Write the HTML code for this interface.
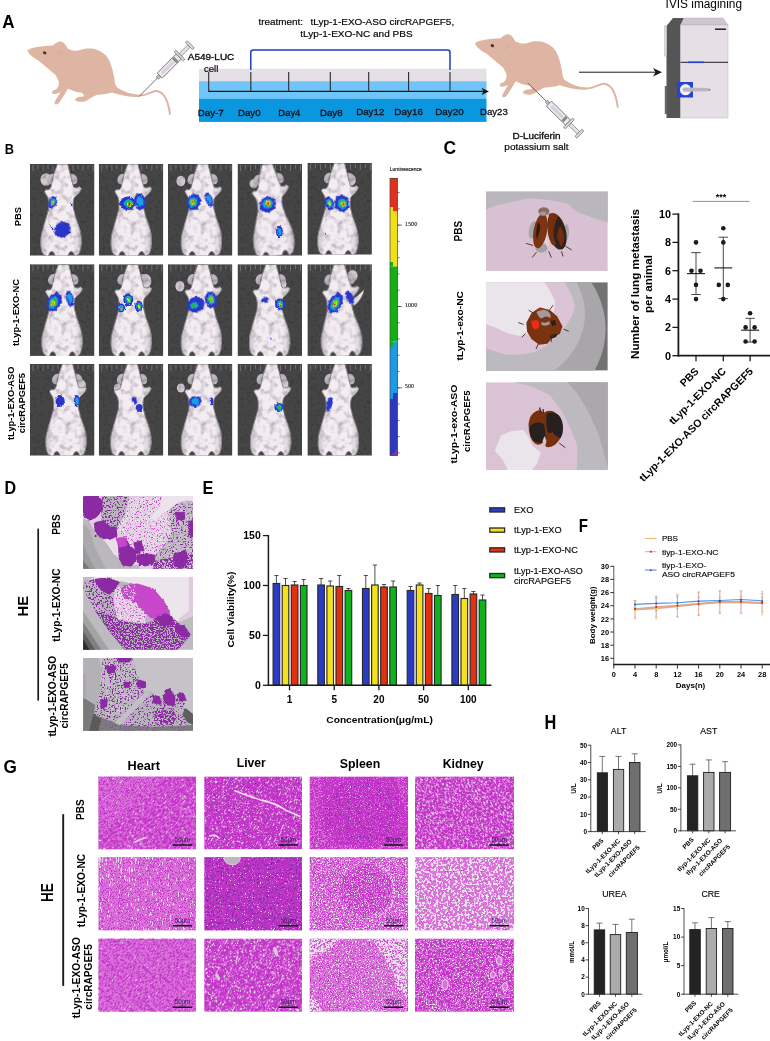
<!DOCTYPE html>
<html lang="en"><head><meta charset="utf-8"><title>Figure</title>
<style>
html,body{margin:0;padding:0;background:#fff;}
svg{display:block;font-family:"Liberation Sans",Arial,sans-serif;}
</style></head><body>
<svg width="770" height="1041" viewBox="0 0 770 1041">
<rect width="770" height="1041" fill="#fff"/>
<g id="pA">
<text x="2.2" y="28.0" font-size="18.3" font-weight="bold" textLength="12.3" lengthAdjust="spacingAndGlyphs">A</text>
<g transform="translate(0,0)">
<path d="M27.3,50.6 C30,47.5 42,46 53,45.5 C55,43 59,41 61.5,41.6 C64,42.5 66,45 67.5,48.5 C72,51 75,51 78,50.6 C85,48 92,48 96,49.4 C102,51.5 107,55 109,60 C112,66 113,72 114.3,78 C114.8,82 115,86 118,88 C124,91.5 130,94.5 138,95 L138,97 C128,97 120,95 112,92.5 C107,94 102,94.5 97.4,94.8 C93,96 90,99 86,101 C82,102.5 77,102 75,100 C76,97 80,96.5 84,96.5 C84,94 82,92.5 80,92.5 C76,92 72,91 68,88.5 C66,92 63,97 60,101.5 C58.5,104.5 55,105.5 54.5,103.5 C54.5,101 58,97 60.5,92 C58,93.5 55,94.5 52.5,93.5 C51,92 53,90 56,89.5 C58,88 59,85 59,82 C57,78 56,76 55.8,75.3 C50,70 44,65 39,61 C34,58 29,55 27.3,50.6 Z" fill="#DEB5A3"/>
<path d="M114,88.5 C122,92.5 132,96 140,95.6 C148,95 152,90.5 157,91 C163,92 168,100 170,114" fill="none" stroke="#DEB5A3" stroke-width="2" stroke-linecap="round"/>
<ellipse cx="44.7" cy="52.9" rx="1.8" ry="1.4" fill="#4a2a25" transform="rotate(30 44.7 52.9)"/>
<path d="M58,52 q1,3 -0.5,5 M60,50 q2,2 1,5" fill="none" stroke="#d89a8a" stroke-width="0.7"/>
</g>
<g transform="translate(139,96.6) rotate(-45.3)">
<line x1="0" y1="0" x2="27.5" y2="0" stroke="#555" stroke-width="0.8"/>
<rect x="26" y="-1.6" width="3.5" height="3.2" fill="#bbb" stroke="#666" stroke-width="0.5"/>
<rect x="29.5" y="-3.6" width="27" height="7.2" rx="1" fill="#EDE8EE" stroke="#666" stroke-width="0.8"/>
<rect x="33" y="-1.5" width="16" height="3" fill="#d9cfe0"/>
<rect x="50" y="-3" width="3" height="6" fill="#888"/>
<rect x="56.5" y="-6.5" width="2.4" height="13" rx="1" fill="#ddd" stroke="#666" stroke-width="0.7"/>
<rect x="59" y="-1.7" width="12" height="3.4" fill="#e4e4e4" stroke="#666" stroke-width="0.6"/>
<rect x="71" y="-5" width="2.6" height="10" rx="1" fill="#ddd" stroke="#666" stroke-width="0.7"/>
</g>
<rect x="199.0" y="68.8" width="287.5" height="12.6" fill="#E5DFE6"/>
<rect x="199.0" y="81.2" width="287.5" height="17.7" fill="#70C5F8"/>
<rect x="199.0" y="98.8" width="287.5" height="23.1" fill="#0A97DF"/>
<line x1="208.2" y1="91.4" x2="484.0" y2="91.4" stroke="#1a1a1a" stroke-width="1.3" />
<path d="M481.5,87.8 L489,91.4 L481.5,95 L483.5,91.4 Z" fill="#1a1a1a"/>
<line x1="208.7" y1="72.0" x2="208.7" y2="91.5" stroke="#2a2a2a" stroke-width="1.1" />
<line x1="250.8" y1="72.0" x2="250.8" y2="91.5" stroke="#2a2a2a" stroke-width="1.1" />
<line x1="288.7" y1="72.0" x2="288.7" y2="91.5" stroke="#2a2a2a" stroke-width="1.1" />
<line x1="330.3" y1="72.0" x2="330.3" y2="91.5" stroke="#2a2a2a" stroke-width="1.1" />
<line x1="368.7" y1="72.0" x2="368.7" y2="91.5" stroke="#2a2a2a" stroke-width="1.1" />
<line x1="408.6" y1="72.0" x2="408.6" y2="91.5" stroke="#2a2a2a" stroke-width="1.1" />
<line x1="450.0" y1="72.0" x2="450.0" y2="91.5" stroke="#2a2a2a" stroke-width="1.1" />
<path d="M250.8,70 L250.8,52.5 Q250.8,50 253.3,50 L447.5,50 Q450,50 450,52.5 L450,70" fill="none" stroke="#1D3DBE" stroke-width="1.5"/>
<text x="258.4" y="25.0" font-size="9.4" textLength="44.6" lengthAdjust="spacingAndGlyphs" stroke="#1a1a1a" stroke-width="0.2">treatment:</text>
<text x="310.6" y="25.0" font-size="9.4" textLength="143.6" lengthAdjust="spacingAndGlyphs" stroke="#1a1a1a" stroke-width="0.2">tLyp-1-EXO-ASO circRAPGEF5,</text>
<text x="300.3" y="36.8" font-size="9.4" textLength="112.3" lengthAdjust="spacingAndGlyphs" stroke="#1a1a1a" stroke-width="0.2">tLyp-1-EXO-NC and PBS</text>
<text x="187.8" y="59.8" font-size="9.4" textLength="46.5" lengthAdjust="spacingAndGlyphs" stroke="#1a1a1a" stroke-width="0.35">A549-LUC</text>
<text x="204.0" y="72.3" font-size="9.4" textLength="14.3" lengthAdjust="spacingAndGlyphs" stroke="#1a1a1a" stroke-width="0.2">cell</text>
<text x="197.8" y="115.5" font-size="9.6" textLength="26.0" lengthAdjust="spacingAndGlyphs" fill="#101018" stroke="#101018" stroke-width="0.3">Day-7</text>
<text x="238.0" y="115.5" font-size="9.6" textLength="22.6" lengthAdjust="spacingAndGlyphs" fill="#101018" stroke="#101018" stroke-width="0.3">Day0</text>
<text x="278.3" y="115.5" font-size="9.6" textLength="22.1" lengthAdjust="spacingAndGlyphs" fill="#101018" stroke="#101018" stroke-width="0.3">Day4</text>
<text x="319.9" y="115.5" font-size="9.6" textLength="22.8" lengthAdjust="spacingAndGlyphs" fill="#101018" stroke="#101018" stroke-width="0.3">Day8</text>
<text x="356.2" y="114.7" font-size="9.6" textLength="28.1" lengthAdjust="spacingAndGlyphs" fill="#101018" stroke="#101018" stroke-width="0.3">Day12</text>
<text x="394.3" y="115.3" font-size="9.6" textLength="28.6" lengthAdjust="spacingAndGlyphs" fill="#101018" stroke="#101018" stroke-width="0.3">Day16</text>
<text x="435.3" y="115.3" font-size="9.6" textLength="28.3" lengthAdjust="spacingAndGlyphs" fill="#101018" stroke="#101018" stroke-width="0.3">Day20</text>
<text x="480.0" y="114.7" font-size="9.6" textLength="27.8" lengthAdjust="spacingAndGlyphs" fill="#101018" stroke="#101018" stroke-width="0.3">Day23</text>
<g transform="translate(447.7,-7.2)">
<path d="M27.3,50.6 C30,47.5 42,46 53,45.5 C55,43 59,41 61.5,41.6 C64,42.5 66,45 67.5,48.5 C72,51 75,51 78,50.6 C85,48 92,48 96,49.4 C102,51.5 107,55 109,60 C112,66 113,72 114.3,78 C114.8,82 115,86 118,88 C124,91.5 130,94.5 138,95 L138,97 C128,97 120,95 112,92.5 C107,94 102,94.5 97.4,94.8 C93,96 90,99 86,101 C82,102.5 77,102 75,100 C76,97 80,96.5 84,96.5 C84,94 82,92.5 80,92.5 C76,92 72,91 68,88.5 C66,92 63,97 60,101.5 C58.5,104.5 55,105.5 54.5,103.5 C54.5,101 58,97 60.5,92 C58,93.5 55,94.5 52.5,93.5 C51,92 53,90 56,89.5 C58,88 59,85 59,82 C57,78 56,76 55.8,75.3 C50,70 44,65 39,61 C34,58 29,55 27.3,50.6 Z" fill="#DEB5A3"/>
<path d="M114,88.5 C122,92.5 132,96 140,95.6 C148,95 152,90.5 157,91 C163,92 168,100 170,114" fill="none" stroke="#DEB5A3" stroke-width="2" stroke-linecap="round"/>
<ellipse cx="44.7" cy="52.9" rx="1.8" ry="1.4" fill="#4a2a25" transform="rotate(30 44.7 52.9)"/>
<path d="M58,52 q1,3 -0.5,5 M60,50 q2,2 1,5" fill="none" stroke="#d89a8a" stroke-width="0.7"/>
</g>
<g transform="translate(527.8,83) rotate(44.5)">
<line x1="0" y1="0" x2="27.5" y2="0" stroke="#555" stroke-width="0.8"/>
<rect x="26" y="-1.6" width="3.5" height="3.2" fill="#bbb" stroke="#666" stroke-width="0.5"/>
<rect x="29.5" y="-3.6" width="27" height="7.2" rx="1" fill="#EDE8EE" stroke="#666" stroke-width="0.8"/>
<rect x="33" y="-1.5" width="16" height="3" fill="#d9cfe0"/>
<rect x="50" y="-3" width="3" height="6" fill="#888"/>
<rect x="56.5" y="-6.5" width="2.4" height="13" rx="1" fill="#ddd" stroke="#666" stroke-width="0.7"/>
<rect x="59" y="-1.7" width="12" height="3.4" fill="#e4e4e4" stroke="#666" stroke-width="0.6"/>
<rect x="71" y="-5" width="2.6" height="10" rx="1" fill="#ddd" stroke="#666" stroke-width="0.7"/>
</g>
<text x="512.6" y="138.6" font-size="9.4" textLength="48.0" lengthAdjust="spacingAndGlyphs" stroke="#1a1a1a" stroke-width="0.35">D-Luciferin</text>
<text x="504.3" y="150.0" font-size="9.4" textLength="64.3" lengthAdjust="spacingAndGlyphs" stroke="#1a1a1a" stroke-width="0.2">potassium salt</text>
<line x1="579.0" y1="72.2" x2="657.0" y2="72.2" stroke="#1a1a1a" stroke-width="1" />
<path d="M653,68 L662,72.2 L653,76.4 L655.5,72.2 Z" fill="#1a1a1a"/>
<text x="665.6" y="8.2" font-size="12" textLength="76.4" lengthAdjust="spacingAndGlyphs">IVIS imagining</text>
<path d="M666.5,118 L666.5,26 L673,18 L684,18 L680.5,26 L680.5,118 Z" fill="#555"/>
<path d="M680.5,25 L684,18 L723,18 L728,25 Z" fill="#CEC6D0" stroke="#aaa" stroke-width="0.4"/>
<rect x="680.5" y="25.0" width="47.5" height="93.0" fill="#E6DFE6" stroke="#b9b3ba" stroke-width="0.5"/>
<line x1="680.5" y1="62.3" x2="728.0" y2="62.3" stroke="#444" stroke-width="1.3" />
<line x1="688.0" y1="62.3" x2="704.0" y2="62.3" stroke="#2244cc" stroke-width="1.6" />
<line x1="715.0" y1="29.2" x2="726.0" y2="29.2" stroke="#222" stroke-width="1.5" />
<rect x="664.8" y="26.0" width="2.0" height="30.0" fill="#ddd" stroke="#999" stroke-width="0.4"/>
<rect x="664.8" y="86.0" width="2.5" height="28.0" fill="#666"/>
<rect x="677.0" y="82.0" width="16.0" height="15.5" fill="#2743CF"/>
<circle cx="685.5" cy="89.7" r="5.6" fill="#f4f2f6"/>
<path d="M684,87.6 L708,87.9 Q711,89.7 708,91.3 L684,91.8 Q681,89.7 684,87.6 Z" fill="#b9b7be"/>
<circle cx="709.5" cy="89.7" r="1" fill="#35a0f0"/>
</g>
<g id="pB">
<defs>
<filter id="mot" x="0" y="0" width="1" height="1" color-interpolation-filters="sRGB"><feTurbulence type="fractalNoise" baseFrequency="0.16" numOctaves="2" seed="4" result="n"/><feColorMatrix in="n" type="matrix" values="0.55 0 0 0 0.70  0.62 0 0 0 0.66  0.55 0 0 0 0.70  0 0 0 0 1" result="g"/><feComposite in="SourceGraphic" in2="g" operator="arithmetic" k1="1" k2="0" k3="0" k4="0"/></filter>
<filter id="bgn" x="0" y="0" width="1" height="1" color-interpolation-filters="sRGB"><feTurbulence type="fractalNoise" baseFrequency="0.3" numOctaves="2" seed="9" result="n"/><feColorMatrix in="n" type="matrix" values="0.5 0 0 0 0.75  0.5 0 0 0 0.75  0.5 0 0 0 0.75  0 0 0 0 1" result="g"/><feComposite in="SourceGraphic" in2="g" operator="arithmetic" k1="1" k2="0" k3="0" k4="0"/></filter>
<filter id="rough" x="-0.2" y="-0.2" width="1.4" height="1.4"><feTurbulence type="fractalNoise" baseFrequency="0.35" numOctaves="2" seed="2" result="t"/><feDisplacementMap in="SourceGraphic" in2="t" scale="3.2" xChannelSelector="R" yChannelSelector="G"/></filter>
<linearGradient id="mgrad" gradientUnits="userSpaceOnUse" x1="10" y1="0" x2="54" y2="0"><stop offset="0" stop-color="#B9B3BA"/><stop offset="0.2" stop-color="#F3EDF2"/><stop offset="0.8" stop-color="#F3EDF2"/><stop offset="1" stop-color="#B9B3BA"/></linearGradient>
<clipPath id="mclip"><rect x="0" y="0" width="64.5" height="91.7"/></clipPath>
</defs>
<text x="4.8" y="153.9" font-size="15" font-weight="bold" textLength="9.2" lengthAdjust="spacingAndGlyphs">B</text>
<text x="21.5" y="216.6" font-size="9.5" font-weight="bold" text-anchor="middle" transform="rotate(-90 21.5 216.6)" textLength="19.2" lengthAdjust="spacingAndGlyphs">PBS</text>
<text x="19.5" y="312.6" font-size="9.5" font-weight="bold" text-anchor="middle" transform="rotate(-90 19.5 312.6)" textLength="67.0" lengthAdjust="spacingAndGlyphs">tLyp-1-EXO-NC</text>
<text x="14.3" y="403.3" font-size="9.5" font-weight="bold" text-anchor="middle" transform="rotate(-90 14.3 403.3)" textLength="73.4" lengthAdjust="spacingAndGlyphs">tLyp-1-EXO-ASO</text>
<text x="25.4" y="403.1" font-size="9.5" font-weight="bold" text-anchor="middle" transform="rotate(-90 25.4 403.1)" textLength="60.2" lengthAdjust="spacingAndGlyphs">circRAPGEF5</text>
<g transform="translate(30.0,164.0)" clip-path="url(#mclip)">
<rect width="64.5" height="91.7" fill="#454545" filter="url(#bgn)"/>
<line x1="3" y1="1" x2="3" y2="7" stroke="#7a7a7a" stroke-width="0.8"/><line x1="8" y1="1" x2="8" y2="5" stroke="#7a7a7a" stroke-width="0.8"/><line x1="13" y1="1" x2="13" y2="7" stroke="#7a7a7a" stroke-width="0.8"/><line x1="18" y1="1" x2="18" y2="5" stroke="#7a7a7a" stroke-width="0.8"/><line x1="23" y1="1" x2="23" y2="7" stroke="#7a7a7a" stroke-width="0.8"/><line x1="28" y1="1" x2="28" y2="5" stroke="#7a7a7a" stroke-width="0.8"/><line x1="33" y1="1" x2="33" y2="7" stroke="#7a7a7a" stroke-width="0.8"/><line x1="38" y1="1" x2="38" y2="5" stroke="#7a7a7a" stroke-width="0.8"/><line x1="43" y1="1" x2="43" y2="7" stroke="#7a7a7a" stroke-width="0.8"/><line x1="48" y1="1" x2="48" y2="5" stroke="#7a7a7a" stroke-width="0.8"/><line x1="53" y1="1" x2="53" y2="7" stroke="#7a7a7a" stroke-width="0.8"/><line x1="58" y1="1" x2="58" y2="5" stroke="#7a7a7a" stroke-width="0.8"/><line x1="63" y1="1" x2="63" y2="7" stroke="#7a7a7a" stroke-width="0.8"/>
<g transform="translate(-1,0) rotate(0 32 46)">
<g filter="url(#mot)"><ellipse cx="17" cy="15.5" rx="5.5" ry="6.3" fill="#CFC8CF"/><ellipse cx="22.5" cy="15" rx="4.2" ry="5.5" fill="#BEB8BF" transform="rotate(25 22.5 15)"/><ellipse cx="44" cy="15" rx="4.2" ry="5.5" fill="#BEB8BF" transform="rotate(-25 44 15)"/><path d="M28.5,0 L38.5,0 C39.5,4 41,9 42,13 C43,17 43.5,20 44.5,23 C46.5,24.5 49,24 50.5,22.5 L52.5,24.5 C51.5,28 48,31 45,34 C44,37 44,41 44.5,45 C46,52 49.5,60 51.5,68 C53,75 53,82 51,87 C50,90.5 48,92.3 46.5,92.3 L45.5,92.3 C45,89.5 44,87.5 42.3,87.5 C40.6,87.5 39.6,89.5 39,92.3 L26,92.3 C25.4,89.5 24.4,87.5 22.7,87.5 C21,87.5 20,89.5 19.5,92.3 L18,92.3 C15.5,92.3 13.5,90 12.5,86 C11,80 11.5,74 13,68 C15,60 18,52 19.5,45 C20,41 19.8,37 19,34 C17.5,31 16,29 15.5,27.5 L17,25.5 C19,26.5 21,25.5 22,23 C22.8,20 23,17 24,13 C25,9 27,4 28.5,0 Z" fill="url(#mgrad)" stroke="#8d888e" stroke-width="1.0"/></g>
</g>
<g transform="translate(22.6,38.5) rotate(20)" filter="url(#rough)"><ellipse cx="0.0" cy="0.0" rx="4.2" ry="6.2" fill="#2B36C9"/><ellipse cx="0.0" cy="0.0" rx="2.6" ry="3.8" fill="#1C9DEB"/><ellipse cx="0.0" cy="0.0" rx="1.9" ry="2.8" fill="#1FC02A"/><ellipse cx="0.0" cy="0.0" rx="1.3" ry="1.9" fill="#F2E21C"/><ellipse cx="0.0" cy="0.0" rx="0.7" ry="1.1" fill="#E3200F"/></g>
<g transform="translate(41.3,40.4) rotate(0)" filter="url(#rough)"><ellipse cx="0.0" cy="0.0" rx="1.2" ry="1.6" fill="#2B36C9"/></g>
<g transform="translate(32.5,65.5) rotate(-30)" filter="url(#rough)"><ellipse cx="0.0" cy="0.0" rx="8.5" ry="7.5" fill="#2B36C9"/></g>
<g transform="translate(22.0,64.0) rotate(0)" filter="url(#rough)"><ellipse cx="0.0" cy="0.0" rx="1.2" ry="1.2" fill="#2B36C9"/></g>
<g transform="translate(20.0,61.0) rotate(0)" filter="url(#rough)"><ellipse cx="0.0" cy="0.0" rx="0.8" ry="0.8" fill="#2B36C9"/></g>
<g transform="translate(24.0,68.0) rotate(0)" filter="url(#rough)"><ellipse cx="0.0" cy="0.0" rx="0.8" ry="0.8" fill="#2B36C9"/></g>
</g>
<g transform="translate(98.8,164.0)" clip-path="url(#mclip)">
<rect width="64.5" height="91.7" fill="#454545" filter="url(#bgn)"/>
<line x1="3" y1="1" x2="3" y2="7" stroke="#7a7a7a" stroke-width="0.8"/><line x1="8" y1="1" x2="8" y2="5" stroke="#7a7a7a" stroke-width="0.8"/><line x1="13" y1="1" x2="13" y2="7" stroke="#7a7a7a" stroke-width="0.8"/><line x1="18" y1="1" x2="18" y2="5" stroke="#7a7a7a" stroke-width="0.8"/><line x1="23" y1="1" x2="23" y2="7" stroke="#7a7a7a" stroke-width="0.8"/><line x1="28" y1="1" x2="28" y2="5" stroke="#7a7a7a" stroke-width="0.8"/><line x1="33" y1="1" x2="33" y2="7" stroke="#7a7a7a" stroke-width="0.8"/><line x1="38" y1="1" x2="38" y2="5" stroke="#7a7a7a" stroke-width="0.8"/><line x1="43" y1="1" x2="43" y2="7" stroke="#7a7a7a" stroke-width="0.8"/><line x1="48" y1="1" x2="48" y2="5" stroke="#7a7a7a" stroke-width="0.8"/><line x1="53" y1="1" x2="53" y2="7" stroke="#7a7a7a" stroke-width="0.8"/><line x1="58" y1="1" x2="58" y2="5" stroke="#7a7a7a" stroke-width="0.8"/><line x1="63" y1="1" x2="63" y2="7" stroke="#7a7a7a" stroke-width="0.8"/>
<g transform="translate(0.5,0) rotate(0 32 46)">
<g filter="url(#mot)"><ellipse cx="22.5" cy="15" rx="4.2" ry="5.5" fill="#BEB8BF" transform="rotate(25 22.5 15)"/><ellipse cx="44" cy="15" rx="4.2" ry="5.5" fill="#BEB8BF" transform="rotate(-25 44 15)"/><path d="M28.5,0 L38.5,0 C39.5,4 41,9 42,13 C43,17 43.5,20 44.5,23 C46.5,24.5 49,24 50.5,22.5 L52.5,24.5 C51.5,28 48,31 45,34 C44,37 44,41 44.5,45 C46,52 49.5,60 51.5,68 C53,75 53,82 51,87 C50,90.5 48,92.3 46.5,92.3 L45.5,92.3 C45,89.5 44,87.5 42.3,87.5 C40.6,87.5 39.6,89.5 39,92.3 L26,92.3 C25.4,89.5 24.4,87.5 22.7,87.5 C21,87.5 20,89.5 19.5,92.3 L18,92.3 C15.5,92.3 13.5,90 12.5,86 C11,80 11.5,74 13,68 C15,60 18,52 19.5,45 C20,41 19.8,37 19,34 C17.5,31 16,29 15.5,27.5 L17,25.5 C19,26.5 21,25.5 22,23 C22.8,20 23,17 24,13 C25,9 27,4 28.5,0 Z" fill="url(#mgrad)" stroke="#8d888e" stroke-width="1.0"/></g>
</g>
<g transform="translate(29.1,39.2) rotate(0)" filter="url(#rough)"><ellipse cx="0.0" cy="0.0" rx="8.0" ry="6.8" fill="#2B36C9"/><ellipse cx="0.8" cy="0.4" rx="5.0" ry="4.2" fill="#1C9DEB"/><ellipse cx="1.1" cy="0.6" rx="3.6" ry="3.1" fill="#1FC02A"/><ellipse cx="1.4" cy="0.7" rx="2.4" ry="2.0" fill="#F2E21C"/><ellipse cx="1.7" cy="0.8" rx="1.4" ry="1.2" fill="#E3200F"/></g>
<g transform="translate(41.2,37.6) rotate(-10)" filter="url(#rough)"><ellipse cx="0.0" cy="0.0" rx="5.8" ry="8.2" fill="#2B36C9"/><ellipse cx="0.0" cy="0.0" rx="3.6" ry="5.1" fill="#1C9DEB"/></g>
</g>
<g transform="translate(167.9,164.0)" clip-path="url(#mclip)">
<rect width="64.5" height="91.7" fill="#454545" filter="url(#bgn)"/>
<line x1="3" y1="1" x2="3" y2="7" stroke="#7a7a7a" stroke-width="0.8"/><line x1="8" y1="1" x2="8" y2="5" stroke="#7a7a7a" stroke-width="0.8"/><line x1="13" y1="1" x2="13" y2="7" stroke="#7a7a7a" stroke-width="0.8"/><line x1="18" y1="1" x2="18" y2="5" stroke="#7a7a7a" stroke-width="0.8"/><line x1="23" y1="1" x2="23" y2="7" stroke="#7a7a7a" stroke-width="0.8"/><line x1="28" y1="1" x2="28" y2="5" stroke="#7a7a7a" stroke-width="0.8"/><line x1="33" y1="1" x2="33" y2="7" stroke="#7a7a7a" stroke-width="0.8"/><line x1="38" y1="1" x2="38" y2="5" stroke="#7a7a7a" stroke-width="0.8"/><line x1="43" y1="1" x2="43" y2="7" stroke="#7a7a7a" stroke-width="0.8"/><line x1="48" y1="1" x2="48" y2="5" stroke="#7a7a7a" stroke-width="0.8"/><line x1="53" y1="1" x2="53" y2="7" stroke="#7a7a7a" stroke-width="0.8"/><line x1="58" y1="1" x2="58" y2="5" stroke="#7a7a7a" stroke-width="0.8"/><line x1="63" y1="1" x2="63" y2="7" stroke="#7a7a7a" stroke-width="0.8"/>
<g transform="translate(1.5,0) rotate(0 32 46)">
<g filter="url(#mot)"><ellipse cx="11.5" cy="17" rx="4.5" ry="5.2" fill="#CFC8CF"/><ellipse cx="22.5" cy="15" rx="4.2" ry="5.5" fill="#BEB8BF" transform="rotate(25 22.5 15)"/><ellipse cx="44" cy="15" rx="4.2" ry="5.5" fill="#BEB8BF" transform="rotate(-25 44 15)"/><path d="M28.5,0 L38.5,0 C39.5,4 41,9 42,13 C43,17 43.5,20 44.5,23 C46.5,24.5 49,24 50.5,22.5 L52.5,24.5 C51.5,28 48,31 45,34 C44,37 44,41 44.5,45 C46,52 49.5,60 51.5,68 C53,75 53,82 51,87 C50,90.5 48,92.3 46.5,92.3 L45.5,92.3 C45,89.5 44,87.5 42.3,87.5 C40.6,87.5 39.6,89.5 39,92.3 L26,92.3 C25.4,89.5 24.4,87.5 22.7,87.5 C21,87.5 20,89.5 19.5,92.3 L18,92.3 C15.5,92.3 13.5,90 12.5,86 C11,80 11.5,74 13,68 C15,60 18,52 19.5,45 C20,41 19.8,37 19,34 C17.5,31 16,29 15.5,27.5 L17,25.5 C19,26.5 21,25.5 22,23 C22.8,20 23,17 24,13 C25,9 27,4 28.5,0 Z" fill="url(#mgrad)" stroke="#8d888e" stroke-width="1.0"/></g>
</g>
<g transform="translate(26.0,38.0) rotate(10)" filter="url(#rough)"><ellipse cx="0.0" cy="0.0" rx="7.0" ry="8.0" fill="#2B36C9"/><ellipse cx="-0.8" cy="0.4" rx="4.3" ry="5.0" fill="#1C9DEB"/><ellipse cx="-1.1" cy="0.6" rx="3.1" ry="3.6" fill="#1FC02A"/><ellipse cx="-1.4" cy="0.7" rx="2.1" ry="2.4" fill="#F2E21C"/><ellipse cx="-1.7" cy="0.8" rx="1.2" ry="1.4" fill="#E3200F"/></g>
<g transform="translate(41.2,35.7) rotate(-20)" filter="url(#rough)"><ellipse cx="0.0" cy="0.0" rx="3.6" ry="7.5" fill="#2B36C9"/><ellipse cx="0.0" cy="0.0" rx="2.2" ry="4.7" fill="#1C9DEB"/></g>
</g>
<g transform="translate(237.5,164.0)" clip-path="url(#mclip)">
<rect width="64.5" height="91.7" fill="#454545" filter="url(#bgn)"/>
<line x1="3" y1="1" x2="3" y2="7" stroke="#7a7a7a" stroke-width="0.8"/><line x1="8" y1="1" x2="8" y2="5" stroke="#7a7a7a" stroke-width="0.8"/><line x1="13" y1="1" x2="13" y2="7" stroke="#7a7a7a" stroke-width="0.8"/><line x1="18" y1="1" x2="18" y2="5" stroke="#7a7a7a" stroke-width="0.8"/><line x1="23" y1="1" x2="23" y2="7" stroke="#7a7a7a" stroke-width="0.8"/><line x1="28" y1="1" x2="28" y2="5" stroke="#7a7a7a" stroke-width="0.8"/><line x1="33" y1="1" x2="33" y2="7" stroke="#7a7a7a" stroke-width="0.8"/><line x1="38" y1="1" x2="38" y2="5" stroke="#7a7a7a" stroke-width="0.8"/><line x1="43" y1="1" x2="43" y2="7" stroke="#7a7a7a" stroke-width="0.8"/><line x1="48" y1="1" x2="48" y2="5" stroke="#7a7a7a" stroke-width="0.8"/><line x1="53" y1="1" x2="53" y2="7" stroke="#7a7a7a" stroke-width="0.8"/><line x1="58" y1="1" x2="58" y2="5" stroke="#7a7a7a" stroke-width="0.8"/><line x1="63" y1="1" x2="63" y2="7" stroke="#7a7a7a" stroke-width="0.8"/>
<g transform="translate(1,0) rotate(-6 32 46)">
<g filter="url(#mot)"><ellipse cx="18" cy="18" rx="4" ry="4.6" fill="#CFC8CF"/><ellipse cx="22.5" cy="15" rx="4.2" ry="5.5" fill="#BEB8BF" transform="rotate(25 22.5 15)"/><ellipse cx="44" cy="15" rx="4.2" ry="5.5" fill="#BEB8BF" transform="rotate(-25 44 15)"/><path d="M28.5,0 L38.5,0 C39.5,4 41,9 42,13 C43,17 43.5,20 44.5,23 C46.5,24.5 49,24 50.5,22.5 L52.5,24.5 C51.5,28 48,31 45,34 C44,37 44,41 44.5,45 C46,52 49.5,60 51.5,68 C53,75 53,82 51,87 C50,90.5 48,92.3 46.5,92.3 L45.5,92.3 C45,89.5 44,87.5 42.3,87.5 C40.6,87.5 39.6,89.5 39,92.3 L26,92.3 C25.4,89.5 24.4,87.5 22.7,87.5 C21,87.5 20,89.5 19.5,92.3 L18,92.3 C15.5,92.3 13.5,90 12.5,86 C11,80 11.5,74 13,68 C15,60 18,52 19.5,45 C20,41 19.8,37 19,34 C17.5,31 16,29 15.5,27.5 L17,25.5 C19,26.5 21,25.5 22,23 C22.8,20 23,17 24,13 C25,9 27,4 28.5,0 Z" fill="url(#mgrad)" stroke="#8d888e" stroke-width="1.0"/></g>
</g>
<g transform="translate(30.2,40.4) rotate(-25)" filter="url(#rough)"><ellipse cx="0.0" cy="0.0" rx="8.5" ry="7.5" fill="#2B36C9"/><ellipse cx="0.4" cy="-0.4" rx="5.3" ry="4.7" fill="#1C9DEB"/><ellipse cx="0.6" cy="-0.6" rx="3.8" ry="3.4" fill="#1FC02A"/><ellipse cx="0.7" cy="-0.7" rx="2.5" ry="2.2" fill="#F2E21C"/><ellipse cx="0.8" cy="-0.8" rx="1.4" ry="1.3" fill="#E3200F"/></g>
<g transform="translate(41.9,68.0) rotate(0)" filter="url(#rough)"><ellipse cx="0.0" cy="0.0" rx="3.4" ry="6.2" fill="#2B36C9"/><ellipse cx="0.0" cy="0.0" rx="2.1" ry="3.8" fill="#1C9DEB"/></g>
<g transform="translate(45.0,38.0) rotate(0)" filter="url(#rough)"><ellipse cx="0.0" cy="0.0" rx="1.0" ry="1.4" fill="#2B36C9"/></g>
</g>
<g transform="translate(307.4,163.0)" clip-path="url(#mclip)">
<rect width="64.5" height="91.7" fill="#454545" filter="url(#bgn)"/>
<line x1="3" y1="1" x2="3" y2="7" stroke="#7a7a7a" stroke-width="0.8"/><line x1="8" y1="1" x2="8" y2="5" stroke="#7a7a7a" stroke-width="0.8"/><line x1="13" y1="1" x2="13" y2="7" stroke="#7a7a7a" stroke-width="0.8"/><line x1="18" y1="1" x2="18" y2="5" stroke="#7a7a7a" stroke-width="0.8"/><line x1="23" y1="1" x2="23" y2="7" stroke="#7a7a7a" stroke-width="0.8"/><line x1="28" y1="1" x2="28" y2="5" stroke="#7a7a7a" stroke-width="0.8"/><line x1="33" y1="1" x2="33" y2="7" stroke="#7a7a7a" stroke-width="0.8"/><line x1="38" y1="1" x2="38" y2="5" stroke="#7a7a7a" stroke-width="0.8"/><line x1="43" y1="1" x2="43" y2="7" stroke="#7a7a7a" stroke-width="0.8"/><line x1="48" y1="1" x2="48" y2="5" stroke="#7a7a7a" stroke-width="0.8"/><line x1="53" y1="1" x2="53" y2="7" stroke="#7a7a7a" stroke-width="0.8"/><line x1="58" y1="1" x2="58" y2="5" stroke="#7a7a7a" stroke-width="0.8"/><line x1="63" y1="1" x2="63" y2="7" stroke="#7a7a7a" stroke-width="0.8"/>
<g transform="translate(-1.5,0) rotate(0 32 46)">
<g filter="url(#mot)"><ellipse cx="45.0" cy="17" rx="5" ry="5.8" fill="#CFC8CF"/><ellipse cx="22.5" cy="15" rx="4.2" ry="5.5" fill="#BEB8BF" transform="rotate(25 22.5 15)"/><ellipse cx="44" cy="15" rx="4.2" ry="5.5" fill="#BEB8BF" transform="rotate(-25 44 15)"/><path d="M28.5,0 L38.5,0 C39.5,4 41,9 42,13 C43,17 43.5,20 44.5,23 C46.5,24.5 49,24 50.5,22.5 L52.5,24.5 C51.5,28 48,31 45,34 C44,37 44,41 44.5,45 C46,52 49.5,60 51.5,68 C53,75 53,82 51,87 C50,90.5 48,92.3 46.5,92.3 L45.5,92.3 C45,89.5 44,87.5 42.3,87.5 C40.6,87.5 39.6,89.5 39,92.3 L26,92.3 C25.4,89.5 24.4,87.5 22.7,87.5 C21,87.5 20,89.5 19.5,92.3 L18,92.3 C15.5,92.3 13.5,90 12.5,86 C11,80 11.5,74 13,68 C15,60 18,52 19.5,45 C20,41 19.8,37 19,34 C17.5,31 16,29 15.5,27.5 L17,25.5 C19,26.5 21,25.5 22,23 C22.8,20 23,17 24,13 C25,9 27,4 28.5,0 Z" fill="url(#mgrad)" stroke="#8d888e" stroke-width="1.0"/></g>
</g>
<g transform="translate(22.0,40.4) rotate(-15)" filter="url(#rough)"><ellipse cx="0.0" cy="0.0" rx="4.5" ry="7.0" fill="#2B36C9"/><ellipse cx="0.0" cy="0.0" rx="2.8" ry="4.3" fill="#1C9DEB"/><ellipse cx="0.0" cy="0.0" rx="2.0" ry="3.1" fill="#1FC02A"/><ellipse cx="0.0" cy="0.0" rx="1.3" ry="2.1" fill="#F2E21C"/></g>
<g transform="translate(34.5,40.4) rotate(-25)" filter="url(#rough)"><ellipse cx="0.0" cy="0.0" rx="7.6" ry="8.2" fill="#2B36C9"/><ellipse cx="0.4" cy="0.6" rx="4.7" ry="5.1" fill="#1C9DEB"/><ellipse cx="0.6" cy="0.8" rx="3.4" ry="3.7" fill="#1FC02A"/><ellipse cx="0.7" cy="1.0" rx="2.3" ry="2.5" fill="#F2E21C"/><ellipse cx="0.8" cy="1.2" rx="1.3" ry="1.4" fill="#E3200F"/></g>
<g transform="translate(18.3,70.8) rotate(0)" filter="url(#rough)"><ellipse cx="0.0" cy="0.0" rx="0.8" ry="0.8" fill="#2B36C9"/></g>
</g>
<g transform="translate(30.0,264.2)" clip-path="url(#mclip)">
<rect width="64.5" height="91.7" fill="#454545" filter="url(#bgn)"/>
<line x1="3" y1="1" x2="3" y2="7" stroke="#7a7a7a" stroke-width="0.8"/><line x1="8" y1="1" x2="8" y2="5" stroke="#7a7a7a" stroke-width="0.8"/><line x1="13" y1="1" x2="13" y2="7" stroke="#7a7a7a" stroke-width="0.8"/><line x1="18" y1="1" x2="18" y2="5" stroke="#7a7a7a" stroke-width="0.8"/><line x1="23" y1="1" x2="23" y2="7" stroke="#7a7a7a" stroke-width="0.8"/><line x1="28" y1="1" x2="28" y2="5" stroke="#7a7a7a" stroke-width="0.8"/><line x1="33" y1="1" x2="33" y2="7" stroke="#7a7a7a" stroke-width="0.8"/><line x1="38" y1="1" x2="38" y2="5" stroke="#7a7a7a" stroke-width="0.8"/><line x1="43" y1="1" x2="43" y2="7" stroke="#7a7a7a" stroke-width="0.8"/><line x1="48" y1="1" x2="48" y2="5" stroke="#7a7a7a" stroke-width="0.8"/><line x1="53" y1="1" x2="53" y2="7" stroke="#7a7a7a" stroke-width="0.8"/><line x1="58" y1="1" x2="58" y2="5" stroke="#7a7a7a" stroke-width="0.8"/><line x1="63" y1="1" x2="63" y2="7" stroke="#7a7a7a" stroke-width="0.8"/>
<g transform="translate(0,0) rotate(0 32 46)">
<g filter="url(#mot)"><ellipse cx="22.5" cy="15" rx="4.2" ry="5.5" fill="#BEB8BF" transform="rotate(25 22.5 15)"/><ellipse cx="44" cy="15" rx="4.2" ry="5.5" fill="#BEB8BF" transform="rotate(-25 44 15)"/><path d="M28.5,0 L38.5,0 C39.5,4 41,9 42,13 C43,17 43.5,20 44.5,23 C46.5,24.5 49,24 50.5,22.5 L52.5,24.5 C51.5,28 48,31 45,34 C44,37 44,41 44.5,45 C46,52 49.5,60 51.5,68 C53,75 53,82 51,87 C50,90.5 48,92.3 46.5,92.3 L45.5,92.3 C45,89.5 44,87.5 42.3,87.5 C40.6,87.5 39.6,89.5 39,92.3 L26,92.3 C25.4,89.5 24.4,87.5 22.7,87.5 C21,87.5 20,89.5 19.5,92.3 L18,92.3 C15.5,92.3 13.5,90 12.5,86 C11,80 11.5,74 13,68 C15,60 18,52 19.5,45 C20,41 19.8,37 19,34 C17.5,31 16,29 15.5,27.5 L17,25.5 C19,26.5 21,25.5 22,23 C22.8,20 23,17 24,13 C25,9 27,4 28.5,0 Z" fill="url(#mgrad)" stroke="#8d888e" stroke-width="1.0"/></g>
</g>
<g transform="translate(24.2,37.9) rotate(25)" filter="url(#rough)"><ellipse cx="0.0" cy="0.0" rx="7.0" ry="10.0" fill="#2B36C9"/><ellipse cx="-0.4" cy="0.8" rx="4.3" ry="6.2" fill="#1C9DEB"/><ellipse cx="-0.6" cy="1.1" rx="3.1" ry="4.5" fill="#1FC02A"/><ellipse cx="-0.7" cy="1.4" rx="2.1" ry="3.0" fill="#F2E21C"/><ellipse cx="-0.8" cy="1.7" rx="1.2" ry="1.7" fill="#E3200F"/></g>
<g transform="translate(39.9,34.4) rotate(-12)" filter="url(#rough)"><ellipse cx="0.0" cy="0.0" rx="3.8" ry="8.0" fill="#2B36C9"/><ellipse cx="0.0" cy="0.0" rx="2.4" ry="5.0" fill="#1C9DEB"/></g>
</g>
<g transform="translate(98.8,264.2)" clip-path="url(#mclip)">
<rect width="64.5" height="91.7" fill="#454545" filter="url(#bgn)"/>
<line x1="3" y1="1" x2="3" y2="7" stroke="#7a7a7a" stroke-width="0.8"/><line x1="8" y1="1" x2="8" y2="5" stroke="#7a7a7a" stroke-width="0.8"/><line x1="13" y1="1" x2="13" y2="7" stroke="#7a7a7a" stroke-width="0.8"/><line x1="18" y1="1" x2="18" y2="5" stroke="#7a7a7a" stroke-width="0.8"/><line x1="23" y1="1" x2="23" y2="7" stroke="#7a7a7a" stroke-width="0.8"/><line x1="28" y1="1" x2="28" y2="5" stroke="#7a7a7a" stroke-width="0.8"/><line x1="33" y1="1" x2="33" y2="7" stroke="#7a7a7a" stroke-width="0.8"/><line x1="38" y1="1" x2="38" y2="5" stroke="#7a7a7a" stroke-width="0.8"/><line x1="43" y1="1" x2="43" y2="7" stroke="#7a7a7a" stroke-width="0.8"/><line x1="48" y1="1" x2="48" y2="5" stroke="#7a7a7a" stroke-width="0.8"/><line x1="53" y1="1" x2="53" y2="7" stroke="#7a7a7a" stroke-width="0.8"/><line x1="58" y1="1" x2="58" y2="5" stroke="#7a7a7a" stroke-width="0.8"/><line x1="63" y1="1" x2="63" y2="7" stroke="#7a7a7a" stroke-width="0.8"/>
<g transform="translate(0.5,0) rotate(0 32 46)">
<g filter="url(#mot)"><ellipse cx="46.1" cy="16.8" rx="6" ry="6.9" fill="#CFC8CF"/><ellipse cx="22.5" cy="15" rx="4.2" ry="5.5" fill="#BEB8BF" transform="rotate(25 22.5 15)"/><ellipse cx="44" cy="15" rx="4.2" ry="5.5" fill="#BEB8BF" transform="rotate(-25 44 15)"/><path d="M28.5,0 L38.5,0 C39.5,4 41,9 42,13 C43,17 43.5,20 44.5,23 C46.5,24.5 49,24 50.5,22.5 L52.5,24.5 C51.5,28 48,31 45,34 C44,37 44,41 44.5,45 C46,52 49.5,60 51.5,68 C53,75 53,82 51,87 C50,90.5 48,92.3 46.5,92.3 L45.5,92.3 C45,89.5 44,87.5 42.3,87.5 C40.6,87.5 39.6,89.5 39,92.3 L26,92.3 C25.4,89.5 24.4,87.5 22.7,87.5 C21,87.5 20,89.5 19.5,92.3 L18,92.3 C15.5,92.3 13.5,90 12.5,86 C11,80 11.5,74 13,68 C15,60 18,52 19.5,45 C20,41 19.8,37 19,34 C17.5,31 16,29 15.5,27.5 L17,25.5 C19,26.5 21,25.5 22,23 C22.8,20 23,17 24,13 C25,9 27,4 28.5,0 Z" fill="url(#mgrad)" stroke="#8d888e" stroke-width="1.0"/></g>
</g>
<g transform="translate(22.0,43.7) rotate(0)" filter="url(#rough)"><ellipse cx="0.0" cy="0.0" rx="4.5" ry="4.5" fill="#2B36C9"/><ellipse cx="0.0" cy="0.0" rx="2.8" ry="2.8" fill="#1C9DEB"/><ellipse cx="0.0" cy="0.0" rx="2.0" ry="2.0" fill="#1FC02A"/><ellipse cx="0.0" cy="0.0" rx="1.3" ry="1.3" fill="#F2E21C"/><ellipse cx="0.0" cy="0.0" rx="0.8" ry="0.8" fill="#E3200F"/></g>
<g transform="translate(29.5,35.5) rotate(0)" filter="url(#rough)"><ellipse cx="0.0" cy="0.0" rx="5.0" ry="6.5" fill="#2B36C9"/><ellipse cx="0.0" cy="0.0" rx="3.1" ry="4.0" fill="#1C9DEB"/><ellipse cx="0.0" cy="0.0" rx="2.2" ry="2.9" fill="#1FC02A"/><ellipse cx="0.0" cy="0.0" rx="1.5" ry="1.9" fill="#F2E21C"/></g>
<g transform="translate(40.0,42.1) rotate(0)" filter="url(#rough)"><ellipse cx="0.0" cy="0.0" rx="4.0" ry="5.5" fill="#2B36C9"/><ellipse cx="0.0" cy="0.0" rx="2.5" ry="3.4" fill="#1C9DEB"/><ellipse cx="0.0" cy="0.0" rx="1.8" ry="2.5" fill="#1FC02A"/><ellipse cx="0.0" cy="0.0" rx="1.2" ry="1.6" fill="#F2E21C"/></g>
</g>
<g transform="translate(167.9,264.2)" clip-path="url(#mclip)">
<rect width="64.5" height="91.7" fill="#454545" filter="url(#bgn)"/>
<line x1="3" y1="1" x2="3" y2="7" stroke="#7a7a7a" stroke-width="0.8"/><line x1="8" y1="1" x2="8" y2="5" stroke="#7a7a7a" stroke-width="0.8"/><line x1="13" y1="1" x2="13" y2="7" stroke="#7a7a7a" stroke-width="0.8"/><line x1="18" y1="1" x2="18" y2="5" stroke="#7a7a7a" stroke-width="0.8"/><line x1="23" y1="1" x2="23" y2="7" stroke="#7a7a7a" stroke-width="0.8"/><line x1="28" y1="1" x2="28" y2="5" stroke="#7a7a7a" stroke-width="0.8"/><line x1="33" y1="1" x2="33" y2="7" stroke="#7a7a7a" stroke-width="0.8"/><line x1="38" y1="1" x2="38" y2="5" stroke="#7a7a7a" stroke-width="0.8"/><line x1="43" y1="1" x2="43" y2="7" stroke="#7a7a7a" stroke-width="0.8"/><line x1="48" y1="1" x2="48" y2="5" stroke="#7a7a7a" stroke-width="0.8"/><line x1="53" y1="1" x2="53" y2="7" stroke="#7a7a7a" stroke-width="0.8"/><line x1="58" y1="1" x2="58" y2="5" stroke="#7a7a7a" stroke-width="0.8"/><line x1="63" y1="1" x2="63" y2="7" stroke="#7a7a7a" stroke-width="0.8"/>
<g transform="translate(1.5,0) rotate(0 32 46)">
<g filter="url(#mot)"><ellipse cx="10.5" cy="22" rx="4.5" ry="5.2" fill="#CFC8CF"/><ellipse cx="22.5" cy="15" rx="4.2" ry="5.5" fill="#BEB8BF" transform="rotate(25 22.5 15)"/><ellipse cx="44" cy="15" rx="4.2" ry="5.5" fill="#BEB8BF" transform="rotate(-25 44 15)"/><path d="M28.5,0 L38.5,0 C39.5,4 41,9 42,13 C43,17 43.5,20 44.5,23 C46.5,24.5 49,24 50.5,22.5 L52.5,24.5 C51.5,28 48,31 45,34 C44,37 44,41 44.5,45 C46,52 49.5,60 51.5,68 C53,75 53,82 51,87 C50,90.5 48,92.3 46.5,92.3 L45.5,92.3 C45,89.5 44,87.5 42.3,87.5 C40.6,87.5 39.6,89.5 39,92.3 L26,92.3 C25.4,89.5 24.4,87.5 22.7,87.5 C21,87.5 20,89.5 19.5,92.3 L18,92.3 C15.5,92.3 13.5,90 12.5,86 C11,80 11.5,74 13,68 C15,60 18,52 19.5,45 C20,41 19.8,37 19,34 C17.5,31 16,29 15.5,27.5 L17,25.5 C19,26.5 21,25.5 22,23 C22.8,20 23,17 24,13 C25,9 27,4 28.5,0 Z" fill="url(#mgrad)" stroke="#8d888e" stroke-width="1.0"/></g>
</g>
<g transform="translate(27.8,40.2) rotate(-20)" filter="url(#rough)"><ellipse cx="0.0" cy="0.0" rx="9.0" ry="7.5" fill="#2B36C9"/><ellipse cx="-1.7" cy="0.6" rx="3.9" ry="3.3" fill="#1C9DEB"/><ellipse cx="-2.1" cy="0.7" rx="2.8" ry="2.4" fill="#1FC02A"/></g>
<g transform="translate(43.1,35.5) rotate(-10)" filter="url(#rough)"><ellipse cx="0.0" cy="0.0" rx="6.0" ry="8.0" fill="#2B36C9"/><ellipse cx="0.0" cy="0.0" rx="3.7" ry="5.0" fill="#1C9DEB"/><ellipse cx="0.0" cy="0.0" rx="2.7" ry="3.6" fill="#1FC02A"/><ellipse cx="0.0" cy="0.0" rx="1.8" ry="2.4" fill="#F2E21C"/><ellipse cx="0.0" cy="0.0" rx="1.0" ry="1.4" fill="#E3200F"/></g>
</g>
<g transform="translate(237.5,264.2)" clip-path="url(#mclip)">
<rect width="64.5" height="91.7" fill="#454545" filter="url(#bgn)"/>
<line x1="3" y1="1" x2="3" y2="7" stroke="#7a7a7a" stroke-width="0.8"/><line x1="8" y1="1" x2="8" y2="5" stroke="#7a7a7a" stroke-width="0.8"/><line x1="13" y1="1" x2="13" y2="7" stroke="#7a7a7a" stroke-width="0.8"/><line x1="18" y1="1" x2="18" y2="5" stroke="#7a7a7a" stroke-width="0.8"/><line x1="23" y1="1" x2="23" y2="7" stroke="#7a7a7a" stroke-width="0.8"/><line x1="28" y1="1" x2="28" y2="5" stroke="#7a7a7a" stroke-width="0.8"/><line x1="33" y1="1" x2="33" y2="7" stroke="#7a7a7a" stroke-width="0.8"/><line x1="38" y1="1" x2="38" y2="5" stroke="#7a7a7a" stroke-width="0.8"/><line x1="43" y1="1" x2="43" y2="7" stroke="#7a7a7a" stroke-width="0.8"/><line x1="48" y1="1" x2="48" y2="5" stroke="#7a7a7a" stroke-width="0.8"/><line x1="53" y1="1" x2="53" y2="7" stroke="#7a7a7a" stroke-width="0.8"/><line x1="58" y1="1" x2="58" y2="5" stroke="#7a7a7a" stroke-width="0.8"/><line x1="63" y1="1" x2="63" y2="7" stroke="#7a7a7a" stroke-width="0.8"/>
<g transform="translate(0,0) rotate(0 32 46)">
<g filter="url(#mot)"><ellipse cx="44" cy="20" rx="5" ry="5.8" fill="#CFC8CF"/><ellipse cx="22.5" cy="15" rx="4.2" ry="5.5" fill="#BEB8BF" transform="rotate(25 22.5 15)"/><ellipse cx="44" cy="15" rx="4.2" ry="5.5" fill="#BEB8BF" transform="rotate(-25 44 15)"/><path d="M28.5,0 L38.5,0 C39.5,4 41,9 42,13 C43,17 43.5,20 44.5,23 C46.5,24.5 49,24 50.5,22.5 L52.5,24.5 C51.5,28 48,31 45,34 C44,37 44,41 44.5,45 C46,52 49.5,60 51.5,68 C53,75 53,82 51,87 C50,90.5 48,92.3 46.5,92.3 L45.5,92.3 C45,89.5 44,87.5 42.3,87.5 C40.6,87.5 39.6,89.5 39,92.3 L26,92.3 C25.4,89.5 24.4,87.5 22.7,87.5 C21,87.5 20,89.5 19.5,92.3 L18,92.3 C15.5,92.3 13.5,90 12.5,86 C11,80 11.5,74 13,68 C15,60 18,52 19.5,45 C20,41 19.8,37 19,34 C17.5,31 16,29 15.5,27.5 L17,25.5 C19,26.5 21,25.5 22,23 C22.8,20 23,17 24,13 C25,9 27,4 28.5,0 Z" fill="url(#mgrad)" stroke="#8d888e" stroke-width="1.0"/></g>
</g>
<g transform="translate(27.4,36.0) rotate(-20)" filter="url(#rough)"><ellipse cx="0.0" cy="0.0" rx="4.0" ry="2.8" fill="#2B36C9"/></g>
<g transform="translate(42.6,40.2) rotate(0)" filter="url(#rough)"><ellipse cx="0.0" cy="0.0" rx="5.0" ry="6.0" fill="#2B36C9"/><ellipse cx="0.0" cy="0.0" rx="3.1" ry="3.7" fill="#1C9DEB"/><ellipse cx="0.0" cy="0.0" rx="2.2" ry="2.7" fill="#1FC02A"/><ellipse cx="0.0" cy="0.0" rx="1.5" ry="1.8" fill="#F2E21C"/><ellipse cx="0.0" cy="0.0" rx="0.9" ry="1.0" fill="#E3200F"/></g>
<g transform="translate(33.3,74.1) rotate(0)" filter="url(#rough)"><ellipse cx="0.0" cy="0.0" rx="0.7" ry="0.7" fill="#2B36C9"/></g>
</g>
<g transform="translate(307.4,264.2)" clip-path="url(#mclip)">
<rect width="64.5" height="91.7" fill="#454545" filter="url(#bgn)"/>
<line x1="3" y1="1" x2="3" y2="7" stroke="#7a7a7a" stroke-width="0.8"/><line x1="8" y1="1" x2="8" y2="5" stroke="#7a7a7a" stroke-width="0.8"/><line x1="13" y1="1" x2="13" y2="7" stroke="#7a7a7a" stroke-width="0.8"/><line x1="18" y1="1" x2="18" y2="5" stroke="#7a7a7a" stroke-width="0.8"/><line x1="23" y1="1" x2="23" y2="7" stroke="#7a7a7a" stroke-width="0.8"/><line x1="28" y1="1" x2="28" y2="5" stroke="#7a7a7a" stroke-width="0.8"/><line x1="33" y1="1" x2="33" y2="7" stroke="#7a7a7a" stroke-width="0.8"/><line x1="38" y1="1" x2="38" y2="5" stroke="#7a7a7a" stroke-width="0.8"/><line x1="43" y1="1" x2="43" y2="7" stroke="#7a7a7a" stroke-width="0.8"/><line x1="48" y1="1" x2="48" y2="5" stroke="#7a7a7a" stroke-width="0.8"/><line x1="53" y1="1" x2="53" y2="7" stroke="#7a7a7a" stroke-width="0.8"/><line x1="58" y1="1" x2="58" y2="5" stroke="#7a7a7a" stroke-width="0.8"/><line x1="63" y1="1" x2="63" y2="7" stroke="#7a7a7a" stroke-width="0.8"/>
<g transform="translate(0.5,0) rotate(-3 32 46)">
<g filter="url(#mot)"><ellipse cx="46.5" cy="12.2" rx="5" ry="5.8" fill="#CFC8CF"/><path d="M44,36 Q50,34 54.1,29.4 L57.1,26.4 L56.1,30.4 Q51,40 46,42 Z" fill="#E9E3E8"/><ellipse cx="22.5" cy="15" rx="4.2" ry="5.5" fill="#BEB8BF" transform="rotate(25 22.5 15)"/><ellipse cx="44" cy="15" rx="4.2" ry="5.5" fill="#BEB8BF" transform="rotate(-25 44 15)"/><path d="M28.5,0 L38.5,0 C39.5,4 41,9 42,13 C43,17 43.5,20 44.5,23 C46.5,24.5 49,24 50.5,22.5 L52.5,24.5 C51.5,28 48,31 45,34 C44,37 44,41 44.5,45 C46,52 49.5,60 51.5,68 C53,75 53,82 51,87 C50,90.5 48,92.3 46.5,92.3 L45.5,92.3 C45,89.5 44,87.5 42.3,87.5 C40.6,87.5 39.6,89.5 39,92.3 L26,92.3 C25.4,89.5 24.4,87.5 22.7,87.5 C21,87.5 20,89.5 19.5,92.3 L18,92.3 C15.5,92.3 13.5,90 12.5,86 C11,80 11.5,74 13,68 C15,60 18,52 19.5,45 C20,41 19.8,37 19,34 C17.5,31 16,29 15.5,27.5 L17,25.5 C19,26.5 21,25.5 22,23 C22.8,20 23,17 24,13 C25,9 27,4 28.5,0 Z" fill="url(#mgrad)" stroke="#8d888e" stroke-width="1.0"/></g>
</g>
<g transform="translate(27.9,39.0) rotate(25)" filter="url(#rough)"><ellipse cx="0.0" cy="0.0" rx="6.5" ry="11.0" fill="#2B36C9"/><ellipse cx="0.0" cy="0.4" rx="4.0" ry="6.8" fill="#1C9DEB"/><ellipse cx="0.0" cy="0.6" rx="2.9" ry="5.0" fill="#1FC02A"/><ellipse cx="0.0" cy="0.7" rx="1.9" ry="3.3" fill="#F2E21C"/><ellipse cx="0.0" cy="0.8" rx="1.1" ry="1.9" fill="#E3200F"/></g>
<g transform="translate(42.4,33.2) rotate(-25)" filter="url(#rough)"><ellipse cx="0.0" cy="0.0" rx="3.6" ry="7.0" fill="#2B36C9"/></g>
</g>
<g transform="translate(30.0,364.0)" clip-path="url(#mclip)">
<rect width="64.5" height="91.7" fill="#454545" filter="url(#bgn)"/>
<line x1="3" y1="1" x2="3" y2="7" stroke="#7a7a7a" stroke-width="0.8"/><line x1="8" y1="1" x2="8" y2="5" stroke="#7a7a7a" stroke-width="0.8"/><line x1="13" y1="1" x2="13" y2="7" stroke="#7a7a7a" stroke-width="0.8"/><line x1="18" y1="1" x2="18" y2="5" stroke="#7a7a7a" stroke-width="0.8"/><line x1="23" y1="1" x2="23" y2="7" stroke="#7a7a7a" stroke-width="0.8"/><line x1="28" y1="1" x2="28" y2="5" stroke="#7a7a7a" stroke-width="0.8"/><line x1="33" y1="1" x2="33" y2="7" stroke="#7a7a7a" stroke-width="0.8"/><line x1="38" y1="1" x2="38" y2="5" stroke="#7a7a7a" stroke-width="0.8"/><line x1="43" y1="1" x2="43" y2="7" stroke="#7a7a7a" stroke-width="0.8"/><line x1="48" y1="1" x2="48" y2="5" stroke="#7a7a7a" stroke-width="0.8"/><line x1="53" y1="1" x2="53" y2="7" stroke="#7a7a7a" stroke-width="0.8"/><line x1="58" y1="1" x2="58" y2="5" stroke="#7a7a7a" stroke-width="0.8"/><line x1="63" y1="1" x2="63" y2="7" stroke="#7a7a7a" stroke-width="0.8"/>
<g transform="translate(4,0) rotate(0 32 46)">
<g filter="url(#mot)"><ellipse cx="47" cy="21" rx="5" ry="5.8" fill="#CFC8CF"/><ellipse cx="22.5" cy="15" rx="4.2" ry="5.5" fill="#BEB8BF" transform="rotate(25 22.5 15)"/><ellipse cx="44" cy="15" rx="4.2" ry="5.5" fill="#BEB8BF" transform="rotate(-25 44 15)"/><path d="M28.5,0 L38.5,0 C39.5,4 41,9 42,13 C43,17 43.5,20 44.5,23 C46.5,24.5 49,24 50.5,22.5 L52.5,24.5 C51.5,28 48,31 45,34 C44,37 44,41 44.5,45 C46,52 49.5,60 51.5,68 C53,75 53,82 51,87 C50,90.5 48,92.3 46.5,92.3 L45.5,92.3 C45,89.5 44,87.5 42.3,87.5 C40.6,87.5 39.6,89.5 39,92.3 L26,92.3 C25.4,89.5 24.4,87.5 22.7,87.5 C21,87.5 20,89.5 19.5,92.3 L18,92.3 C15.5,92.3 13.5,90 12.5,86 C11,80 11.5,74 13,68 C15,60 18,52 19.5,45 C20,41 19.8,37 19,34 C17.5,31 16,29 15.5,27.5 L17,25.5 C19,26.5 21,25.5 22,23 C22.8,20 23,17 24,13 C25,9 27,4 28.5,0 Z" fill="url(#mgrad)" stroke="#8d888e" stroke-width="1.0"/></g>
</g>
<g transform="translate(30.1,36.9) rotate(0)" filter="url(#rough)"><ellipse cx="0.0" cy="0.0" rx="4.5" ry="6.0" fill="#2B36C9"/></g>
<g transform="translate(46.9,36.9) rotate(0)" filter="url(#rough)"><ellipse cx="0.0" cy="0.0" rx="3.0" ry="6.0" fill="#2B36C9"/><ellipse cx="0.0" cy="0.0" rx="1.9" ry="3.7" fill="#1C9DEB"/></g>
</g>
<g transform="translate(98.8,364.0)" clip-path="url(#mclip)">
<rect width="64.5" height="91.7" fill="#454545" filter="url(#bgn)"/>
<line x1="3" y1="1" x2="3" y2="7" stroke="#7a7a7a" stroke-width="0.8"/><line x1="8" y1="1" x2="8" y2="5" stroke="#7a7a7a" stroke-width="0.8"/><line x1="13" y1="1" x2="13" y2="7" stroke="#7a7a7a" stroke-width="0.8"/><line x1="18" y1="1" x2="18" y2="5" stroke="#7a7a7a" stroke-width="0.8"/><line x1="23" y1="1" x2="23" y2="7" stroke="#7a7a7a" stroke-width="0.8"/><line x1="28" y1="1" x2="28" y2="5" stroke="#7a7a7a" stroke-width="0.8"/><line x1="33" y1="1" x2="33" y2="7" stroke="#7a7a7a" stroke-width="0.8"/><line x1="38" y1="1" x2="38" y2="5" stroke="#7a7a7a" stroke-width="0.8"/><line x1="43" y1="1" x2="43" y2="7" stroke="#7a7a7a" stroke-width="0.8"/><line x1="48" y1="1" x2="48" y2="5" stroke="#7a7a7a" stroke-width="0.8"/><line x1="53" y1="1" x2="53" y2="7" stroke="#7a7a7a" stroke-width="0.8"/><line x1="58" y1="1" x2="58" y2="5" stroke="#7a7a7a" stroke-width="0.8"/><line x1="63" y1="1" x2="63" y2="7" stroke="#7a7a7a" stroke-width="0.8"/>
<g transform="translate(0,0) rotate(0 32 46)">
<g filter="url(#mot)"><ellipse cx="19" cy="24" rx="4" ry="4.6" fill="#CFC8CF"/><ellipse cx="22.5" cy="15" rx="4.2" ry="5.5" fill="#BEB8BF" transform="rotate(25 22.5 15)"/><ellipse cx="44" cy="15" rx="4.2" ry="5.5" fill="#BEB8BF" transform="rotate(-25 44 15)"/><path d="M28.5,0 L38.5,0 C39.5,4 41,9 42,13 C43,17 43.5,20 44.5,23 C46.5,24.5 49,24 50.5,22.5 L52.5,24.5 C51.5,28 48,31 45,34 C44,37 44,41 44.5,45 C46,52 49.5,60 51.5,68 C53,75 53,82 51,87 C50,90.5 48,92.3 46.5,92.3 L45.5,92.3 C45,89.5 44,87.5 42.3,87.5 C40.6,87.5 39.6,89.5 39,92.3 L26,92.3 C25.4,89.5 24.4,87.5 22.7,87.5 C21,87.5 20,89.5 19.5,92.3 L18,92.3 C15.5,92.3 13.5,90 12.5,86 C11,80 11.5,74 13,68 C15,60 18,52 19.5,45 C20,41 19.8,37 19,34 C17.5,31 16,29 15.5,27.5 L17,25.5 C19,26.5 21,25.5 22,23 C22.8,20 23,17 24,13 C25,9 27,4 28.5,0 Z" fill="url(#mgrad)" stroke="#8d888e" stroke-width="1.0"/></g>
</g>
<g transform="translate(35.6,36.9) rotate(-20)" filter="url(#rough)"><ellipse cx="0.0" cy="0.0" rx="2.4" ry="4.0" fill="#2B36C9"/></g>
<g transform="translate(40.3,43.9) rotate(0)" filter="url(#rough)"><ellipse cx="0.0" cy="0.0" rx="3.5" ry="4.0" fill="#2B36C9"/></g>
</g>
<g transform="translate(167.9,364.0)" clip-path="url(#mclip)">
<rect width="64.5" height="91.7" fill="#454545" filter="url(#bgn)"/>
<line x1="3" y1="1" x2="3" y2="7" stroke="#7a7a7a" stroke-width="0.8"/><line x1="8" y1="1" x2="8" y2="5" stroke="#7a7a7a" stroke-width="0.8"/><line x1="13" y1="1" x2="13" y2="7" stroke="#7a7a7a" stroke-width="0.8"/><line x1="18" y1="1" x2="18" y2="5" stroke="#7a7a7a" stroke-width="0.8"/><line x1="23" y1="1" x2="23" y2="7" stroke="#7a7a7a" stroke-width="0.8"/><line x1="28" y1="1" x2="28" y2="5" stroke="#7a7a7a" stroke-width="0.8"/><line x1="33" y1="1" x2="33" y2="7" stroke="#7a7a7a" stroke-width="0.8"/><line x1="38" y1="1" x2="38" y2="5" stroke="#7a7a7a" stroke-width="0.8"/><line x1="43" y1="1" x2="43" y2="7" stroke="#7a7a7a" stroke-width="0.8"/><line x1="48" y1="1" x2="48" y2="5" stroke="#7a7a7a" stroke-width="0.8"/><line x1="53" y1="1" x2="53" y2="7" stroke="#7a7a7a" stroke-width="0.8"/><line x1="58" y1="1" x2="58" y2="5" stroke="#7a7a7a" stroke-width="0.8"/><line x1="63" y1="1" x2="63" y2="7" stroke="#7a7a7a" stroke-width="0.8"/>
<g transform="translate(1.5,0) rotate(0 32 46)">
<g filter="url(#mot)"><ellipse cx="11.5" cy="24" rx="4" ry="4.6" fill="#CFC8CF"/><ellipse cx="22.5" cy="15" rx="4.2" ry="5.5" fill="#BEB8BF" transform="rotate(25 22.5 15)"/><ellipse cx="44" cy="15" rx="4.2" ry="5.5" fill="#BEB8BF" transform="rotate(-25 44 15)"/><path d="M28.5,0 L38.5,0 C39.5,4 41,9 42,13 C43,17 43.5,20 44.5,23 C46.5,24.5 49,24 50.5,22.5 L52.5,24.5 C51.5,28 48,31 45,34 C44,37 44,41 44.5,45 C46,52 49.5,60 51.5,68 C53,75 53,82 51,87 C50,90.5 48,92.3 46.5,92.3 L45.5,92.3 C45,89.5 44,87.5 42.3,87.5 C40.6,87.5 39.6,89.5 39,92.3 L26,92.3 C25.4,89.5 24.4,87.5 22.7,87.5 C21,87.5 20,89.5 19.5,92.3 L18,92.3 C15.5,92.3 13.5,90 12.5,86 C11,80 11.5,74 13,68 C15,60 18,52 19.5,45 C20,41 19.8,37 19,34 C17.5,31 16,29 15.5,27.5 L17,25.5 C19,26.5 21,25.5 22,23 C22.8,20 23,17 24,13 C25,9 27,4 28.5,0 Z" fill="url(#mgrad)" stroke="#8d888e" stroke-width="1.0"/></g>
</g>
<g transform="translate(27.4,37.6) rotate(-20)" filter="url(#rough)"><ellipse cx="0.0" cy="0.0" rx="6.5" ry="5.5" fill="#2B36C9"/><ellipse cx="0.0" cy="0.0" rx="4.0" ry="3.4" fill="#1C9DEB"/></g>
<g transform="translate(43.6,37.6) rotate(0)" filter="url(#rough)"><ellipse cx="0.0" cy="0.0" rx="1.8" ry="4.0" fill="#2B36C9"/></g>
</g>
<g transform="translate(237.5,364.0)" clip-path="url(#mclip)">
<rect width="64.5" height="91.7" fill="#454545" filter="url(#bgn)"/>
<line x1="3" y1="1" x2="3" y2="7" stroke="#7a7a7a" stroke-width="0.8"/><line x1="8" y1="1" x2="8" y2="5" stroke="#7a7a7a" stroke-width="0.8"/><line x1="13" y1="1" x2="13" y2="7" stroke="#7a7a7a" stroke-width="0.8"/><line x1="18" y1="1" x2="18" y2="5" stroke="#7a7a7a" stroke-width="0.8"/><line x1="23" y1="1" x2="23" y2="7" stroke="#7a7a7a" stroke-width="0.8"/><line x1="28" y1="1" x2="28" y2="5" stroke="#7a7a7a" stroke-width="0.8"/><line x1="33" y1="1" x2="33" y2="7" stroke="#7a7a7a" stroke-width="0.8"/><line x1="38" y1="1" x2="38" y2="5" stroke="#7a7a7a" stroke-width="0.8"/><line x1="43" y1="1" x2="43" y2="7" stroke="#7a7a7a" stroke-width="0.8"/><line x1="48" y1="1" x2="48" y2="5" stroke="#7a7a7a" stroke-width="0.8"/><line x1="53" y1="1" x2="53" y2="7" stroke="#7a7a7a" stroke-width="0.8"/><line x1="58" y1="1" x2="58" y2="5" stroke="#7a7a7a" stroke-width="0.8"/><line x1="63" y1="1" x2="63" y2="7" stroke="#7a7a7a" stroke-width="0.8"/>
<g transform="translate(1,0) rotate(0 32 46)">
<g filter="url(#mot)"><ellipse cx="45" cy="20" rx="5" ry="5.8" fill="#CFC8CF"/><ellipse cx="22.5" cy="15" rx="4.2" ry="5.5" fill="#BEB8BF" transform="rotate(25 22.5 15)"/><ellipse cx="44" cy="15" rx="4.2" ry="5.5" fill="#BEB8BF" transform="rotate(-25 44 15)"/><path d="M28.5,0 L38.5,0 C39.5,4 41,9 42,13 C43,17 43.5,20 44.5,23 C46.5,24.5 49,24 50.5,22.5 L52.5,24.5 C51.5,28 48,31 45,34 C44,37 44,41 44.5,45 C46,52 49.5,60 51.5,68 C53,75 53,82 51,87 C50,90.5 48,92.3 46.5,92.3 L45.5,92.3 C45,89.5 44,87.5 42.3,87.5 C40.6,87.5 39.6,89.5 39,92.3 L26,92.3 C25.4,89.5 24.4,87.5 22.7,87.5 C21,87.5 20,89.5 19.5,92.3 L18,92.3 C15.5,92.3 13.5,90 12.5,86 C11,80 11.5,74 13,68 C15,60 18,52 19.5,45 C20,41 19.8,37 19,34 C17.5,31 16,29 15.5,27.5 L17,25.5 C19,26.5 21,25.5 22,23 C22.8,20 23,17 24,13 C25,9 27,4 28.5,0 Z" fill="url(#mgrad)" stroke="#8d888e" stroke-width="1.0"/></g>
</g>
<g transform="translate(41.5,43.5) rotate(0)" filter="url(#rough)"><ellipse cx="0.0" cy="0.0" rx="4.6" ry="4.6" fill="#2B36C9"/><ellipse cx="0.0" cy="0.0" rx="2.9" ry="2.9" fill="#1C9DEB"/><ellipse cx="0.0" cy="0.0" rx="2.1" ry="2.1" fill="#1FC02A"/></g>
</g>
<g transform="translate(307.4,364.0)" clip-path="url(#mclip)">
<rect width="64.5" height="91.7" fill="#454545" filter="url(#bgn)"/>
<line x1="3" y1="1" x2="3" y2="7" stroke="#7a7a7a" stroke-width="0.8"/><line x1="8" y1="1" x2="8" y2="5" stroke="#7a7a7a" stroke-width="0.8"/><line x1="13" y1="1" x2="13" y2="7" stroke="#7a7a7a" stroke-width="0.8"/><line x1="18" y1="1" x2="18" y2="5" stroke="#7a7a7a" stroke-width="0.8"/><line x1="23" y1="1" x2="23" y2="7" stroke="#7a7a7a" stroke-width="0.8"/><line x1="28" y1="1" x2="28" y2="5" stroke="#7a7a7a" stroke-width="0.8"/><line x1="33" y1="1" x2="33" y2="7" stroke="#7a7a7a" stroke-width="0.8"/><line x1="38" y1="1" x2="38" y2="5" stroke="#7a7a7a" stroke-width="0.8"/><line x1="43" y1="1" x2="43" y2="7" stroke="#7a7a7a" stroke-width="0.8"/><line x1="48" y1="1" x2="48" y2="5" stroke="#7a7a7a" stroke-width="0.8"/><line x1="53" y1="1" x2="53" y2="7" stroke="#7a7a7a" stroke-width="0.8"/><line x1="58" y1="1" x2="58" y2="5" stroke="#7a7a7a" stroke-width="0.8"/><line x1="63" y1="1" x2="63" y2="7" stroke="#7a7a7a" stroke-width="0.8"/>
<g transform="translate(-1,0) rotate(0 32 46)">
<g filter="url(#mot)"><ellipse cx="22.5" cy="15" rx="4.2" ry="5.5" fill="#BEB8BF" transform="rotate(25 22.5 15)"/><ellipse cx="44" cy="15" rx="4.2" ry="5.5" fill="#BEB8BF" transform="rotate(-25 44 15)"/><path d="M28.5,0 L38.5,0 C39.5,4 41,9 42,13 C43,17 43.5,20 44.5,23 C46.5,24.5 49,24 50.5,22.5 L52.5,24.5 C51.5,28 48,31 45,34 C44,37 44,41 44.5,45 C46,52 49.5,60 51.5,68 C53,75 53,82 51,87 C50,90.5 48,92.3 46.5,92.3 L45.5,92.3 C45,89.5 44,87.5 42.3,87.5 C40.6,87.5 39.6,89.5 39,92.3 L26,92.3 C25.4,89.5 24.4,87.5 22.7,87.5 C21,87.5 20,89.5 19.5,92.3 L18,92.3 C15.5,92.3 13.5,90 12.5,86 C11,80 11.5,74 13,68 C15,60 18,52 19.5,45 C20,41 19.8,37 19,34 C17.5,31 16,29 15.5,27.5 L17,25.5 C19,26.5 21,25.5 22,23 C22.8,20 23,17 24,13 C25,9 27,4 28.5,0 Z" fill="url(#mgrad)" stroke="#8d888e" stroke-width="1.0"/></g>
</g>
<g transform="translate(21.8,40.4) rotate(15)" filter="url(#rough)"><ellipse cx="0.0" cy="0.0" rx="3.0" ry="7.5" fill="#2B36C9"/></g>
</g>
<text x="389.8" y="171.3" font-size="5.2" textLength="32.0" lengthAdjust="spacingAndGlyphs" fill="#111" stroke="#111" stroke-width="0.15">Luminescence</text>
<rect x="390.0" y="178.0" width="7.6" height="33.5" fill="#E2301A"/>
<rect x="390.0" y="211.5" width="7.6" height="55.0" fill="#F3DF18"/>
<rect x="390.0" y="266.5" width="7.6" height="75.0" fill="#12B012"/>
<rect x="390.0" y="341.5" width="7.6" height="51.5" fill="#1B9BE6"/>
<rect x="390.0" y="393.0" width="7.6" height="62.6" fill="#2B38C2"/>
<path d="M390,211.5 L390,207 L393,207 L393,211.5 Z" fill="#F3DF18"/>
<path d="M390,266.5 L390,262 L393,262 L393,266.5 Z" fill="#12B012"/>
<path d="M390,393 L390,399 L393,399 L393,393 Z" fill="#1B9BE6"/>
<path d="M390,341.5 L390,347 L393,347 L393,341.5 Z" fill="#12B012"/>
<path d="M397.6,449.5 L397.6,455.6 L391,455.6 L393.5,452.5 L395,452.5 L395,449.5 Z" fill="#8A2DA0"/>
<rect x="390.0" y="178.3" width="7.6" height="277.3" fill="none" stroke="#444" stroke-width="0.7"/>
<line x1="397.6" y1="192.6" x2="399.6" y2="192.6" stroke="#333" stroke-width="0.7" />
<line x1="397.6" y1="208.9" x2="399.6" y2="208.9" stroke="#333" stroke-width="0.7" />
<line x1="397.6" y1="225.1" x2="399.6" y2="225.1" stroke="#333" stroke-width="0.7" />
<line x1="397.6" y1="241.4" x2="399.6" y2="241.4" stroke="#333" stroke-width="0.7" />
<line x1="397.6" y1="257.7" x2="399.6" y2="257.7" stroke="#333" stroke-width="0.7" />
<line x1="397.6" y1="273.9" x2="399.6" y2="273.9" stroke="#333" stroke-width="0.7" />
<line x1="397.6" y1="290.2" x2="399.6" y2="290.2" stroke="#333" stroke-width="0.7" />
<line x1="397.6" y1="306.5" x2="399.6" y2="306.5" stroke="#333" stroke-width="0.7" />
<line x1="397.6" y1="322.8" x2="399.6" y2="322.8" stroke="#333" stroke-width="0.7" />
<line x1="397.6" y1="339.0" x2="399.6" y2="339.0" stroke="#333" stroke-width="0.7" />
<line x1="397.6" y1="355.3" x2="399.6" y2="355.3" stroke="#333" stroke-width="0.7" />
<line x1="397.6" y1="371.6" x2="399.6" y2="371.6" stroke="#333" stroke-width="0.7" />
<line x1="397.6" y1="387.8" x2="399.6" y2="387.8" stroke="#333" stroke-width="0.7" />
<line x1="397.6" y1="404.1" x2="399.6" y2="404.1" stroke="#333" stroke-width="0.7" />
<line x1="397.6" y1="420.4" x2="399.6" y2="420.4" stroke="#333" stroke-width="0.7" />
<line x1="397.6" y1="436.6" x2="399.6" y2="436.6" stroke="#333" stroke-width="0.7" />
<line x1="397.6" y1="452.9" x2="399.6" y2="452.9" stroke="#333" stroke-width="0.7" />
<line x1="397.6" y1="225.1" x2="402.0" y2="225.1" stroke="#333" stroke-width="0.7" />
<text x="404.8" y="225.5" font-size="6.3" fill="#111" font-family="Liberation Serif,serif" stroke="#111" stroke-width="0.1">1500</text>
<line x1="397.6" y1="306.5" x2="402.0" y2="306.5" stroke="#333" stroke-width="0.7" />
<text x="404.8" y="306.9" font-size="6.3" fill="#111" font-family="Liberation Serif,serif" stroke="#111" stroke-width="0.1">1000</text>
<line x1="397.6" y1="387.8" x2="402.0" y2="387.8" stroke="#333" stroke-width="0.7" />
<text x="404.8" y="388.2" font-size="6.3" fill="#111" font-family="Liberation Serif,serif" stroke="#111" stroke-width="0.1">500</text>
</g>
<g id="pC">
<defs>
<clipPath id="c1"><rect x="486.0" y="191.4" width="121.79999999999995" height="79.5"/></clipPath>
<clipPath id="c2"><rect x="486.0" y="282.2" width="121.79999999999995" height="88.3"/></clipPath>
<clipPath id="c3"><rect x="486.0" y="382.2" width="121.79999999999995" height="87.7"/></clipPath>
</defs>
<text x="443.4" y="154.2" font-size="18.2" font-weight="bold" textLength="12.6" lengthAdjust="spacingAndGlyphs">C</text>
<text x="462.5" y="231.1" font-size="10" font-weight="bold" text-anchor="middle" transform="rotate(-90 462.5 231.1)" textLength="20.6" lengthAdjust="spacingAndGlyphs">PBS</text>
<text x="463.4" y="325.8" font-size="9.5" font-weight="bold" text-anchor="middle" transform="rotate(-90 463.4 325.8)" textLength="69.6" lengthAdjust="spacingAndGlyphs">tLyp-1-exo-NC</text>
<text x="457.0" y="424.0" font-size="9.5" font-weight="bold" text-anchor="middle" transform="rotate(-90 457.0 424.0)" textLength="79.0" lengthAdjust="spacingAndGlyphs">tLyp-1-exo-ASO</text>
<text x="470.4" y="421.2" font-size="9.5" font-weight="bold" text-anchor="middle" transform="rotate(-90 470.4 421.2)" textLength="61.6" lengthAdjust="spacingAndGlyphs">circRAPGEF5</text>
<g clip-path="url(#c1)">
<rect x="486.0" y="191.4" width="121.8" height="79.5" fill="#D8C1D2"/>
<path d="M486,191 L608.3,191 L608.3,222.5 L591.4,217.3 L577.5,212.1 L567,203.4 L549.6,199.9 L528.7,198.2 L497.4,205.1 L486,209.5 Z" fill="#B9B6BD"/>
<ellipse cx="533" cy="230" rx="4" ry="9" fill="#A9A5AA" transform="rotate(12 533 230)"/>
<ellipse cx="541.5" cy="248" rx="6" ry="4.5" fill="#A39FA4"/>
<ellipse cx="566.5" cy="232" rx="2.5" ry="8" fill="#A9A5AA"/>
<ellipse cx="540.3" cy="231" rx="6.8" ry="17.5" fill="#7C3513" transform="rotate(10 540.3 231)"/>
<ellipse cx="557" cy="231.5" rx="8.8" ry="18.5" fill="#33221a" transform="rotate(-14 557 231.5)"/>
<path d="M549,214 q5,-3 9,2 q-3,6 -4,12 q-2,8 2,16 q-3,3 -5,-1 q-4,-8 -3,-16 q0,-8 1,-13 Z" fill="#74300f"/>
<path d="M560,226 q4,4 4,12 q0,6 -3,9 q-2,-6 -4,-10 q0,-6 3,-11 Z" fill="#6e2d0e"/>
<ellipse cx="543.8" cy="211.5" rx="5.5" ry="4.2" fill="#8f6a58"/>
<ellipse cx="543" cy="213.5" rx="3.5" ry="2" fill="#9c9a9e"/>
<path d="M538,222 q3,3 2,8 q-2,6 -3,10 q-2,-8 1,-18 Z" fill="#2a1a12"/>
<path d="M546.5,236 l3,5 l-1.5,7 l-3,-7 Z" fill="#e6d0cc"/>
<line x1="526.1" y1="243.4" x2="533.1" y2="245.5" stroke="#4a2a18" stroke-width="0.9" />
<line x1="532.2" y1="257.4" x2="536.6" y2="252.1" stroke="#4a2a18" stroke-width="0.9" />
<line x1="548.7" y1="251.3" x2="551.4" y2="257.7" stroke="#4a2a18" stroke-width="0.9" />
<line x1="561.4" y1="251.3" x2="563.2" y2="256.5" stroke="#4a2a18" stroke-width="0.9" />
<line x1="565.3" y1="246.0" x2="571.7" y2="250.0" stroke="#4a2a18" stroke-width="0.9" />
</g>
<g clip-path="url(#c2)">
<rect x="486.0" y="282.2" width="121.8" height="88.6" fill="#727272"/>
<ellipse cx="500" cy="329" rx="105.6" ry="93" fill="#A8A6A9"/>
<ellipse cx="496" cy="314" rx="89" ry="74.5" fill="#BCB9BF"/>
<path d="M485,282 L564.4,282 Q572,293 575,306 Q573,318 562,331 Q550,345 535,352 Q516,357.5 500,353 L485,348 Z" fill="#DAC4D5"/>
<path d="M485,282 L544.4,282 Q551,291 555,301 Q556,313 545,325 Q536,333 520,336 Q506,334 497,328 L485,324 Z" fill="#EAE5EA"/>
<path d="M532.2,313.4 L540,308.2 L549.6,310.8 L556.6,316.9 L561.8,326.5 L559.2,333.4 L553.1,336 L547,343 L539.2,343.9 L532.2,338.7 L527.9,331.7 L527,323 Z" fill="#7A3311" stroke="#7A3311" stroke-width="1.5" stroke-linejoin="round"/>
<path d="M536.5,312 q5,-4 11,-1 q4,3 3,7 q-5,-3 -8,0 q-3,2 -6,-6 Z" fill="#9f9ca0"/>
<path d="M541,322 q5,2 8,-1 l1,3 q-4,3 -8,1 Z" fill="#9f9ca0"/>
<path d="M551,321 l4,-1 l1,5 l-4,1 Z" fill="#2a1c16"/>
<path d="M550,336 q4,-3 8,-2 l-2,3 q-3,2 -6,1 Z" fill="#3a2418"/>
<ellipse cx="535.7" cy="324.7" rx="3.8" ry="4.8" fill="#EB2A1A"/>
<circle cx="532.5" cy="322" r="1.5" fill="#EB2A1A"/>
<circle cx="540.3" cy="310" r="1.3" fill="#EB2A1A"/>
<line x1="528.7" y1="310.3" x2="533.1" y2="312.9" stroke="#4a2a18" stroke-width="0.9" />
<line x1="549.6" y1="309.9" x2="553.1" y2="305.2" stroke="#4a2a18" stroke-width="0.9" />
<line x1="518.3" y1="322.6" x2="523.5" y2="324.4" stroke="#4a2a18" stroke-width="0.9" />
<line x1="521.8" y1="337.3" x2="525.6" y2="333.4" stroke="#4a2a18" stroke-width="0.9" />
<line x1="536.0" y1="349.1" x2="538.3" y2="343.9" stroke="#4a2a18" stroke-width="0.9" />
<line x1="551.0" y1="342.1" x2="552.2" y2="336.9" stroke="#4a2a18" stroke-width="0.9" />
<line x1="563.5" y1="329.1" x2="568.8" y2="331.3" stroke="#4a2a18" stroke-width="0.9" />
</g>
<g clip-path="url(#c3)">
<rect x="486.0" y="382.2" width="121.8" height="87.8" fill="#D9C3D5"/>
<path d="M513,382 L608.3,382 L608.3,470 L576.6,470 L577.5,445.6 L570.5,428.2 L561.8,410.8 L549.6,395.1 L532.2,386.4 Z" fill="#BCB9BF"/>
<path d="M567,382 L608.3,382 L608.3,470 L605.3,457.8 L598.3,433.4 L587.9,410.8 L577.5,393.4 Z" fill="#AAA8AB"/>
<path d="M500.9,435.2 L512,431 L523.5,430 L528.7,436.9 L532.2,445.6 L540.9,452.6 L537.4,463 L532.2,470 L507.8,470 L502.6,459.5 L494.8,450.8 Z" fill="#EAE5EA"/>
<path d="M528.5,424 q1,-10 8,-13 q4,-2 7,2 q5,-4 11,-1 q8,5 8,15 q1,8 -4,14 q-5,7 -12,6 q-3,-2 -3,-5 q-3,4 -8,2 q-7,-5 -7,-20 Z" fill="#74300F"/>
<path d="M530,426 q5,-5 12,-3 q3,2 3,7 q1,7 -1,11 q-6,4 -11,-1 q-4,-5 -3,-14 Z" fill="#26201f"/>
<path d="M546.5,414 q6,-3.5 12,1 q4.5,5 4.5,13 q0,6 -2.5,10 q-5,-1 -8,-6 q-2,2 -5,0 q-2,-9 -1,-18 Z" fill="#26201f"/>
<path d="M544.5,436 l2,5 l-1.5,6 l-2.5,-6 Z" fill="#cfc6cd"/>
<path d="M539.5,407.5 l1.5,5 M543,409 l0.5,4" stroke="#3a2418" stroke-width="1.2" fill="none"/>
<line x1="559.2" y1="443.0" x2="565.3" y2="447.7" stroke="#4a2a18" stroke-width="0.9" />
</g>
<line x1="678.4" y1="213.4" x2="678.4" y2="356.5" stroke="#1a1a1a" stroke-width="1.8" />
<line x1="677.5" y1="355.7" x2="770.0" y2="355.7" stroke="#1a1a1a" stroke-width="1.7" />
<line x1="672.4" y1="355.7" x2="678.4" y2="355.7" stroke="#1a1a1a" stroke-width="1.3" />
<text x="670.9" y="359.6" font-size="10.8" font-weight="bold" text-anchor="end">0</text>
<line x1="672.4" y1="327.4" x2="678.4" y2="327.4" stroke="#1a1a1a" stroke-width="1.3" />
<text x="670.9" y="331.3" font-size="10.8" font-weight="bold" text-anchor="end">2</text>
<line x1="672.4" y1="299.1" x2="678.4" y2="299.1" stroke="#1a1a1a" stroke-width="1.3" />
<text x="670.9" y="303.0" font-size="10.8" font-weight="bold" text-anchor="end">4</text>
<line x1="672.4" y1="270.7" x2="678.4" y2="270.7" stroke="#1a1a1a" stroke-width="1.3" />
<text x="670.9" y="274.6" font-size="10.8" font-weight="bold" text-anchor="end">6</text>
<line x1="672.4" y1="242.4" x2="678.4" y2="242.4" stroke="#1a1a1a" stroke-width="1.3" />
<text x="670.9" y="246.3" font-size="10.8" font-weight="bold" text-anchor="end">8</text>
<line x1="672.4" y1="214.1" x2="678.4" y2="214.1" stroke="#1a1a1a" stroke-width="1.3" />
<text x="670.9" y="218.0" font-size="10.8" font-weight="bold" text-anchor="end">10</text>
<line x1="696.0" y1="355.7" x2="696.0" y2="361.2" stroke="#1a1a1a" stroke-width="1.3" />
<line x1="723.3" y1="355.7" x2="723.3" y2="361.2" stroke="#1a1a1a" stroke-width="1.3" />
<line x1="750.1" y1="355.7" x2="750.1" y2="361.2" stroke="#1a1a1a" stroke-width="1.3" />
<line x1="696.0" y1="252.6" x2="696.0" y2="294.5" stroke="#333" stroke-width="0.9" />
<line x1="691.3" y1="252.6" x2="700.7" y2="252.6" stroke="#333" stroke-width="0.9" />
<line x1="691.3" y1="294.5" x2="700.7" y2="294.5" stroke="#333" stroke-width="0.9" />
<line x1="687.0" y1="273.6" x2="705.0" y2="273.6" stroke="#1a1a1a" stroke-width="1.1" />
<circle cx="696.0" cy="242.4" r="2.3" fill="#1a1a1a"/>
<circle cx="691.5" cy="270.7" r="2.3" fill="#1a1a1a"/>
<circle cx="700.5" cy="270.7" r="2.3" fill="#1a1a1a"/>
<circle cx="696.0" cy="284.9" r="2.3" fill="#1a1a1a"/>
<circle cx="696.0" cy="299.1" r="2.3" fill="#1a1a1a"/>
<line x1="723.3" y1="237.2" x2="723.3" y2="298.6" stroke="#333" stroke-width="0.9" />
<line x1="718.6" y1="237.2" x2="728.0" y2="237.2" stroke="#333" stroke-width="0.9" />
<line x1="718.6" y1="298.6" x2="728.0" y2="298.6" stroke="#333" stroke-width="0.9" />
<line x1="714.3" y1="267.9" x2="732.3" y2="267.9" stroke="#1a1a1a" stroke-width="1.1" />
<circle cx="723.3" cy="228.3" r="2.3" fill="#1a1a1a"/>
<circle cx="723.3" cy="242.4" r="2.3" fill="#1a1a1a"/>
<circle cx="718.8" cy="284.9" r="2.3" fill="#1a1a1a"/>
<circle cx="727.8" cy="284.9" r="2.3" fill="#1a1a1a"/>
<circle cx="723.3" cy="299.1" r="2.3" fill="#1a1a1a"/>
<line x1="750.1" y1="318.3" x2="750.1" y2="342.1" stroke="#333" stroke-width="0.9" />
<line x1="745.4" y1="318.3" x2="754.8" y2="318.3" stroke="#333" stroke-width="0.9" />
<line x1="745.4" y1="342.1" x2="754.8" y2="342.1" stroke="#333" stroke-width="0.9" />
<line x1="741.1" y1="330.2" x2="759.1" y2="330.2" stroke="#1a1a1a" stroke-width="1.1" />
<circle cx="750.1" cy="313.2" r="2.3" fill="#1a1a1a"/>
<circle cx="745.6" cy="327.4" r="2.3" fill="#1a1a1a"/>
<circle cx="754.6" cy="327.4" r="2.3" fill="#1a1a1a"/>
<circle cx="745.6" cy="341.5" r="2.3" fill="#1a1a1a"/>
<circle cx="754.6" cy="341.5" r="2.3" fill="#1a1a1a"/>
<line x1="692.7" y1="201.4" x2="749.6" y2="201.4" stroke="#444" stroke-width="0.6" />
<text x="721.0" y="199.5" font-size="9" font-weight="bold" text-anchor="middle">***</text>
<text x="638.8" y="284.0" font-size="11.8" font-weight="bold" text-anchor="middle" transform="rotate(-90 638.8 284.0)" textLength="150.0" lengthAdjust="spacingAndGlyphs">Number of lung metastasis</text>
<text x="652.4" y="284.0" font-size="11.8" font-weight="bold" text-anchor="middle" transform="rotate(-90 652.4 284.0)" textLength="58.0" lengthAdjust="spacingAndGlyphs">per animal</text>
<text x="699.5" y="372.0" font-size="10.5" font-weight="bold" text-anchor="end" transform="rotate(-45 699.5 372.0)">PBS</text>
<text x="726.5" y="372.0" font-size="10.5" font-weight="bold" text-anchor="end" transform="rotate(-45 726.5 372.0)">tLyp-1-EXO-NC</text>
<text x="753.7" y="372.0" font-size="10.5" font-weight="bold" text-anchor="end" transform="rotate(-45 753.7 372.0)" textLength="156.0" lengthAdjust="spacingAndGlyphs">tLyp-1-EXO-ASO circRAPGEF5</text>
</g>
<g id="pD">
<defs>
<filter id="spP" x="0" y="0" width="1" height="1" color-interpolation-filters="sRGB"><feTurbulence type="fractalNoise" baseFrequency="0.62" numOctaves="2" seed="3"/><feColorMatrix type="matrix" values="0 0 0 0 0.545  0 0 0 0 0.169  0 0 0 0 0.635  14 0 0 0 -7.6"/><feComposite in2="SourceGraphic" operator="in"/></filter>
<filter id="spPd" x="0" y="0" width="1" height="1" color-interpolation-filters="sRGB"><feTurbulence type="fractalNoise" baseFrequency="0.62" numOctaves="2" seed="7"/><feColorMatrix type="matrix" values="0 0 0 0 0.545  0 0 0 0 0.169  0 0 0 0 0.635  14 0 0 0 -6.6"/><feComposite in2="SourceGraphic" operator="in"/></filter>
<filter id="spM" x="0" y="0" width="1" height="1" color-interpolation-filters="sRGB"><feTurbulence type="fractalNoise" baseFrequency="0.7" numOctaves="2" seed="11"/><feColorMatrix type="matrix" values="0 0 0 0 0.800  0 0 0 0 0.282  0 0 0 0 0.808  14 0 0 0 -8.3"/><feComposite in2="SourceGraphic" operator="in"/></filter>
<filter id="spPs" x="0" y="0" width="1" height="1" color-interpolation-filters="sRGB"><feTurbulence type="fractalNoise" baseFrequency="0.62" numOctaves="2" seed="13"/><feColorMatrix type="matrix" values="0 0 0 0 0.545  0 0 0 0 0.169  0 0 0 0 0.635  14 0 0 0 -7.95"/><feComposite in2="SourceGraphic" operator="in"/></filter>
<filter id="spW" x="0" y="0" width="1" height="1" color-interpolation-filters="sRGB"><feTurbulence type="fractalNoise" baseFrequency="0.7" numOctaves="2" seed="5"/><feColorMatrix type="matrix" values="0 0 0 0 0.929  0 0 0 0 0.902  0 0 0 0 0.929  14 0 0 0 -7.6"/><feComposite in2="SourceGraphic" operator="in"/></filter>
<filter id="spG" x="0" y="0" width="1" height="1" color-interpolation-filters="sRGB"><feTurbulence type="fractalNoise" baseFrequency="0.65" numOctaves="2" seed="8"/><feColorMatrix type="matrix" values="0 0 0 0 0.706  0 0 0 0 0.694  0 0 0 0 0.718  14 0 0 0 -6.85"/><feComposite in2="SourceGraphic" operator="in"/></filter>
<clipPath id="dclip"><rect x="0" y="0" width="110" height="73"/></clipPath>
</defs>
<text x="4.4" y="493.6" font-size="18" font-weight="bold" textLength="11.6" lengthAdjust="spacingAndGlyphs">D</text>
<text x="28.4" y="606.2" font-size="15.4" font-weight="bold" text-anchor="middle" transform="rotate(-90 28.4 606.2)" textLength="20.5" lengthAdjust="spacingAndGlyphs">HE</text>
<line x1="38.2" y1="528.6" x2="38.2" y2="700.6" stroke="#1a1a1a" stroke-width="1.7" />
<text x="59.5" y="524.5" font-size="10.5" font-weight="bold" text-anchor="middle" transform="rotate(-90 59.5 524.5)" textLength="20.6" lengthAdjust="spacingAndGlyphs">PBS</text>
<text x="60.2" y="605.1" font-size="10.3" font-weight="bold" text-anchor="middle" transform="rotate(-90 60.2 605.1)" textLength="73.2" lengthAdjust="spacingAndGlyphs">tLyp-1-EXO-NC</text>
<text x="55.6" y="696.2" font-size="10.3" font-weight="bold" text-anchor="middle" transform="rotate(-90 55.6 696.2)" textLength="80.8" lengthAdjust="spacingAndGlyphs">tLyp-1-EXO-ASO</text>
<text x="68.4" y="695.9" font-size="10.3" font-weight="bold" text-anchor="middle" transform="rotate(-90 68.4 695.9)" textLength="65.3" lengthAdjust="spacingAndGlyphs">circRAPGEF5</text>
<g transform="translate(83.1,495.9)" clip-path="url(#dclip)">
<rect x="0.0" y="0.0" width="110.2" height="73.0" fill="#E1CDE1"/>
<polygon points="33.8,0.8 88.4,0.8 91.5,35.1 82.1,47.5 72.8,58.4 54.1,58.4 41.6,42.9 33.8,31.9" fill="#E1CDE1" />
<polygon points="33.8,0.8 88.4,0.8 91.5,35.1 82.1,47.5 72.8,58.4 54.1,58.4 41.6,42.9 33.8,31.9" fill="#000" filter="url(#spM)"/>
<polygon points="33.8,0.8 88.4,0.8 91.5,35.1 82.1,47.5 72.8,58.4 54.1,58.4 41.6,42.9 33.8,31.9" fill="#000" filter="url(#spW)"/>
<polygon points="18.2,0.0 46.3,0.0 41.6,19.5 33.8,31.9 26.0,31.9 18.2,24.2" fill="#BCB4BE" />
<polygon points="18.2,0.0 46.3,0.0 41.6,19.5 33.8,31.9 26.0,31.9 18.2,24.2" fill="#000" filter="url(#spP)"/>
<polygon points="88.4,8.6 97.7,5.5 110.2,5.5 110.2,72.9 69.7,72.9 72.8,58.4 82.1,47.5 88.4,35.1 85.2,19.5" fill="#BBB6BE" />
<polygon points="88.4,8.6 97.7,5.5 110.2,5.5 110.2,72.9 69.7,72.9 72.8,58.4 82.1,47.5 88.4,35.1 85.2,19.5" fill="#000" filter="url(#spPs)"/>
<polygon points="88.4,8.6 97.7,5.5 110.2,5.5 110.2,72.9 69.7,72.9 72.8,58.4 82.1,47.5 88.4,35.1 85.2,19.5" fill="#000" filter="url(#spW)" opacity="0.5"/>
<polygon points="69.7,72.9 71.2,64.7 88.4,61.6 110.2,58.4 110.2,72.9" fill="#000" filter="url(#spPd)"/>
<polygon points="79.0,0.0 110.2,0.0 110.2,5.5 103.9,3.9 94.6,7.0 82.1,16.4 72.8,24.2 66.5,22.6 75.9,11.7" fill="#ECE3EC" />
<polygon points="0.0,22.6 5.8,24.9 12.0,36.6 19.8,42.9 26.0,50.6 30.7,58.4 36.9,63.1 40.0,69.3 55.6,69.3 57.2,72.9 0.0,72.9" fill="#BAB8BD" />
<polygon points="0.0,27.3 7.3,35.1 10.4,47.5 15.1,58.4 22.9,72.9 0.0,72.9" fill="#ABA9AC" />
<polygon points="0.0,47.5 4.2,58.4 12.0,72.9 0.0,72.9" fill="#9A999B" />
<polygon points="0.0,64.7 6.5,72.9 0.0,72.9" fill="#777" />
<polygon points="19.8,42.9 33.8,42.9 36.9,50.6 36.9,61.6 30.7,58.4 26.0,50.6" fill="#E9DFE9" />
<g filter="url(#rough)">
<polygon points="0.0,0.8 13.6,0.0 18.2,5.5 18.2,14.8 12.0,21.0 5.8,23.4 0.0,16.4" fill="#8B2BA2" stroke="#8B2BA2" stroke-width="2.5" stroke-linejoin="round"/>
<polygon points="12.0,27.3 19.8,25.7 26.0,31.9 32.3,31.9 33.0,39.7 26.0,42.9 18.2,41.3 12.8,35.1" fill="#8B2BA2" stroke="#8B2BA2" stroke-width="2.5" stroke-linejoin="round"/>
<polygon points="34.6,42.9 41.6,42.9 46.3,50.6 51.7,55.3 52.5,63.1 47.8,69.3 40.0,68.6 36.9,61.6 36.2,50.6" fill="#8B2BA2" stroke="#8B2BA2" stroke-width="2.5" stroke-linejoin="round"/>
<polygon points="54.9,60.0 63.4,58.4 71.2,60.0 70.4,66.2 63.4,69.3 57.2,68.6 54.5,64.7" fill="#8B2BA2" stroke="#8B2BA2" stroke-width="2.5" stroke-linejoin="round"/>
<polygon points="91.5,58.4 102.4,55.3 103.9,66.2 97.7,71.7 91.5,69.3" fill="#8B2BA2" stroke="#8B2BA2" stroke-width="2.5" stroke-linejoin="round"/>
<polygon points="93.0,17.1 99.3,17.9 100.8,22.6 94.6,24.2" fill="#8B2BA2" stroke="#8B2BA2" stroke-width="2.5" stroke-linejoin="round"/>
<polygon points="106.3,25.7 110.2,25.7 110.2,41.3 107.1,39.7" fill="#8B2BA2" stroke="#8B2BA2" stroke-width="2.5" stroke-linejoin="round"/>
<polygon points="51.7,47.5 57.2,46.0 60.3,53.8 54.1,56.9" fill="#8B2BA2" stroke="#8B2BA2" stroke-width="2.5" stroke-linejoin="round"/>
<polygon points="33.8,42.9 41.6,42.5 43.5,49.1 36.6,51.0" fill="#C646C9" stroke="#C646C9" stroke-width="1.5" stroke-linejoin="round"/>
</g>
<circle cx="12.5" cy="40" r="1" fill="#5a2a10"/>
</g>
<g transform="translate(83.1,576.7)" clip-path="url(#dclip)">
<rect x="0.0" y="0.0" width="110.2" height="73.0" fill="#ECE5EC"/>
<polygon points="105.8,0.0 110.2,0.0 110.2,42.1 94.6,46.0 96.2,41.3 105.8,34.3" fill="#E0CADD" />
<polygon points="110.2,39.7 94.6,46.0 107.1,57.7 94.6,73.2 110.2,73.2" fill="#BDBAC0" />
<polygon points="0.0,0.0 13.6,0.0 1.1,4.7 0.0,10.9 41.6,73.2 0.0,73.2" fill="#BDBBC0" />
<polygon points="0.0,34.3 26.0,73.2 0.0,73.2" fill="#A3A2A4" />
<polygon points="0.0,45.2 18.2,73.2 0.0,73.2" fill="#7f7f7f" />
<polygon points="0.0,54.5 12.0,73.2 0.0,73.2" fill="#5c5c5c" />
<polygon points="0.0,62.3 6.5,73.2 0.0,73.2" fill="#2e2e2e" />
<polygon points="0.0,10.9 1.1,4.7 10.4,2.3 26.0,1.6 33.8,3.9 54.1,7.8 69.7,12.5 82.1,26.5 88.4,40.5 94.6,45.2 103.9,54.5 107.1,59.2 94.6,73.2 41.6,73.2" fill="#B9B5BC" />
<polygon points="1.1,4.7 10.4,2.3 33.8,23.4 33.8,42.1 15.1,39.0 0.0,12.5" fill="#000" filter="url(#spP)"/>
<polygon points="12.0,34.3 33.8,40.5 46.3,45.2 61.9,46.8 72.8,43.6 86.8,39.0 94.6,45.2 103.9,54.5 107.1,59.2 94.6,73.2 41.6,73.2 26.0,54.5" fill="#8B2BA2" />
<polygon points="12.0,34.3 33.8,40.5 46.3,45.2 61.9,46.8 72.8,43.6 86.8,39.0 94.6,45.2 103.9,54.5 107.1,59.2 94.6,73.2 41.6,73.2 26.0,54.5" fill="#000" filter="url(#spG)"/>
<polygon points="30.7,12.5 40.0,9.4 41.6,20.3 54.1,26.5 63.4,37.4 61.9,46.8 46.3,45.2 33.8,42.1 30.7,26.5" fill="#E2C8E2" />
<polygon points="30.7,12.5 40.0,9.4 41.6,20.3 54.1,26.5 63.4,37.4 61.9,46.8 46.3,45.2 33.8,42.1 30.7,26.5" fill="#000" filter="url(#spM)"/>
<polygon points="30.7,12.5 40.0,9.4 41.6,20.3 54.1,26.5 63.4,37.4 61.9,46.8 46.3,45.2 33.8,42.1 30.7,26.5" fill="#000" filter="url(#spW)"/>
<g filter="url(#rough)">
<polygon points="40.0,9.4 54.1,7.5 69.7,12.2 82.1,26.5 86.8,39.0 72.8,43.6 63.4,37.4 54.1,26.5 41.6,20.3 38.5,14.0" fill="#C646C9" stroke="#C646C9" stroke-width="1.5" stroke-linejoin="round"/>
<polygon points="40.0,9.4 52.5,8.6 54.1,26.5 41.6,20.3 38.5,14.0" fill="#000" filter="url(#spW)" opacity="0.7"/>
<polygon points="12.0,3.1 26.0,1.9 35.4,6.2 30.7,12.5 26.0,17.1 18.2,12.5" fill="#8B2BA2" stroke="#8B2BA2" stroke-width="2" stroke-linejoin="round"/>
<polygon points="72.8,42.1 82.1,37.4 88.4,40.5 89.9,46.8 79.0,48.3" fill="#8B2BA2" stroke="#8B2BA2" stroke-width="2" stroke-linejoin="round"/>
<polygon points="93.0,48.3 100.8,49.9 106.3,57.7 102.4,60.8 94.6,56.1" fill="#8B2BA2" stroke="#8B2BA2" stroke-width="2" stroke-linejoin="round"/>
</g>
</g>
<g transform="translate(83.1,657.9)" clip-path="url(#dclip)">
<rect x="0.0" y="0.0" width="110.2" height="73.0" fill="#C5C2C8"/>
<polygon points="0.0,0.0 15.9,0.0 18.2,12.8 16.7,33.0 12.0,53.3 5.8,72.8 0.0,72.8" fill="#B3B1B5" />
<polygon points="0.0,39.3 12.0,47.1 10.4,59.5 5.8,72.8 0.0,72.8" fill="#7b7b7b" />
<polygon points="0.0,15.9 2.6,15.9 2.6,40.8 0.0,40.8" fill="#A9A7AA" />
<polygon points="19.8,0.0 49.4,0.0 54.1,17.5 61.9,25.2 60.3,33.0 66.5,33.0 79.0,42.4 82.1,33.0 86.8,30.7 93.0,40.8 99.3,34.6 102.4,40.8 100.8,50.2 110.2,59.5 110.2,72.8 5.8,72.8 12.0,53.3 16.7,33.0 18.2,12.8" fill="#B7B4BA" />
<polygon points="19.8,0.0 49.4,0.0 54.1,17.5 57.2,34.6 41.6,53.3 26.0,59.5 13.6,53.3 16.7,33.0 18.2,12.8" fill="#000" filter="url(#spW)" opacity="0.45"/>
<polygon points="19.8,0.0 49.4,0.0 54.1,17.5 61.9,25.2 60.3,33.0 66.5,33.0 79.0,42.4 82.1,33.0 86.8,30.7 93.0,40.8 99.3,34.6 102.4,40.8 100.8,50.2 110.2,59.5 110.2,72.8 5.8,72.8 12.0,53.3 16.7,33.0 18.2,12.8" fill="#000" filter="url(#spPs)"/>
<polygon points="5.8,72.8 10.4,56.4 26.0,62.6 41.6,67.3 69.7,68.9 110.2,67.3 110.2,72.8" fill="#737275" opacity="0.85"/>
<polygon points="5.8,72.8 10.4,56.4 18.2,61.1 15.1,72.8" fill="#5a5a5a" />
<polygon points="102.4,50.2 110.2,56.4 110.2,67.3 103.9,64.2 99.3,56.4" fill="#5e5e5e" />
<polygon points="69.7,53.3 88.4,50.2 94.6,59.5 88.4,67.3 72.8,67.3" fill="#000" filter="url(#spPd)"/>
<polygon points="63.4,32.3 68.1,34.9 36.9,67.3 31.5,65.0" fill="#C2BFC6" />
<polygon points="22.1,12.8 25.2,12.8 26.0,28.4 22.9,29.1" fill="#C2BFC6" />
<g filter="url(#rough)">
<polygon points="22.9,8.1 32.3,8.9 31.5,14.3 24.5,14.0" fill="#8B2BA2" stroke="#8B2BA2" stroke-width="2" stroke-linejoin="round"/>
<polygon points="35.4,0.0 47.8,0.0 47.1,3.4 36.9,3.7" fill="#8B2BA2" stroke="#8B2BA2" stroke-width="2" stroke-linejoin="round"/>
<polygon points="54.1,22.1 61.9,24.5 61.9,29.1 54.9,28.7" fill="#8B2BA2" stroke="#8B2BA2" stroke-width="2" stroke-linejoin="round"/>
<polygon points="82.1,33.8 86.8,31.2 91.5,39.3 90.7,47.1 83.7,46.3 80.9,40.8" fill="#8B2BA2" stroke="#8B2BA2" stroke-width="2" stroke-linejoin="round"/>
<polygon points="69.7,37.7 75.9,39.3 77.5,45.5 71.2,44.7" fill="#8B2BA2" stroke="#8B2BA2" stroke-width="2" stroke-linejoin="round"/>
<polygon points="94.6,36.9 99.6,35.8 102.4,41.6 96.9,42.7" fill="#8B2BA2" stroke="#8B2BA2" stroke-width="2" stroke-linejoin="round"/>
<polygon points="18.2,42.4 23.7,40.8 22.9,48.6 18.2,50.2" fill="#8B2BA2" stroke="#8B2BA2" stroke-width="2" stroke-linejoin="round"/>
<polygon points="41.6,24.5 46.3,25.2 45.5,29.1 41.6,28.7" fill="#8B2BA2" stroke="#8B2BA2" stroke-width="2" stroke-linejoin="round"/>
</g>
</g>
</g>
<g id="pE">
<text x="202.4" y="493.6" font-size="17.7" font-weight="bold" textLength="10.9" lengthAdjust="spacingAndGlyphs">E</text>
<line x1="276.4" y1="583.5" x2="276.4" y2="575.5" stroke="#3a3a3a" stroke-width="0.9" />
<line x1="274.3" y1="575.5" x2="278.5" y2="575.5" stroke="#3a3a3a" stroke-width="0.9" />
<rect x="273.1" y="583.5" width="6.6" height="101.8" fill="#2B3CC4" stroke="#2a2a2a" stroke-width="1.15"/>
<line x1="285.5" y1="585.5" x2="285.5" y2="578.5" stroke="#3a3a3a" stroke-width="0.9" />
<line x1="283.4" y1="578.5" x2="287.6" y2="578.5" stroke="#3a3a3a" stroke-width="0.9" />
<rect x="282.2" y="585.5" width="6.6" height="99.8" fill="#F6E11C" stroke="#2a2a2a" stroke-width="1.15"/>
<line x1="294.6" y1="585.0" x2="294.6" y2="581.5" stroke="#3a3a3a" stroke-width="0.9" />
<line x1="292.5" y1="581.5" x2="296.7" y2="581.5" stroke="#3a3a3a" stroke-width="0.9" />
<rect x="291.3" y="585.0" width="6.6" height="100.3" fill="#E3300F" stroke="#2a2a2a" stroke-width="1.15"/>
<line x1="303.7" y1="585.5" x2="303.7" y2="579.5" stroke="#3a3a3a" stroke-width="0.9" />
<line x1="301.6" y1="579.5" x2="305.8" y2="579.5" stroke="#3a3a3a" stroke-width="0.9" />
<rect x="300.4" y="585.5" width="6.6" height="99.8" fill="#0FB31C" stroke="#2a2a2a" stroke-width="1.15"/>
<line x1="321.1" y1="585.0" x2="321.1" y2="578.5" stroke="#3a3a3a" stroke-width="0.9" />
<line x1="319.0" y1="578.5" x2="323.2" y2="578.5" stroke="#3a3a3a" stroke-width="0.9" />
<rect x="317.8" y="585.0" width="6.6" height="100.3" fill="#2B3CC4" stroke="#2a2a2a" stroke-width="1.15"/>
<line x1="330.2" y1="586.0" x2="330.2" y2="581.0" stroke="#3a3a3a" stroke-width="0.9" />
<line x1="328.1" y1="581.0" x2="332.3" y2="581.0" stroke="#3a3a3a" stroke-width="0.9" />
<rect x="326.9" y="586.0" width="6.6" height="99.3" fill="#F6E11C" stroke="#2a2a2a" stroke-width="1.15"/>
<line x1="339.3" y1="586.5" x2="339.3" y2="575.5" stroke="#3a3a3a" stroke-width="0.9" />
<line x1="337.2" y1="575.5" x2="341.4" y2="575.5" stroke="#3a3a3a" stroke-width="0.9" />
<rect x="336.0" y="586.5" width="6.6" height="98.8" fill="#E3300F" stroke="#2a2a2a" stroke-width="1.15"/>
<line x1="348.4" y1="590.5" x2="348.4" y2="588.5" stroke="#3a3a3a" stroke-width="0.9" />
<line x1="346.3" y1="588.5" x2="350.5" y2="588.5" stroke="#3a3a3a" stroke-width="0.9" />
<rect x="345.1" y="590.5" width="6.6" height="94.8" fill="#0FB31C" stroke="#2a2a2a" stroke-width="1.15"/>
<line x1="365.8" y1="588.5" x2="365.8" y2="575.5" stroke="#3a3a3a" stroke-width="0.9" />
<line x1="363.7" y1="575.5" x2="367.9" y2="575.5" stroke="#3a3a3a" stroke-width="0.9" />
<rect x="362.5" y="588.5" width="6.6" height="96.8" fill="#2B3CC4" stroke="#2a2a2a" stroke-width="1.15"/>
<line x1="374.9" y1="585.0" x2="374.9" y2="565.0" stroke="#3a3a3a" stroke-width="0.9" />
<line x1="372.8" y1="565.0" x2="377.0" y2="565.0" stroke="#3a3a3a" stroke-width="0.9" />
<rect x="371.6" y="585.0" width="6.6" height="100.3" fill="#F6E11C" stroke="#2a2a2a" stroke-width="1.15"/>
<line x1="384.0" y1="587.0" x2="384.0" y2="584.5" stroke="#3a3a3a" stroke-width="0.9" />
<line x1="381.9" y1="584.5" x2="386.1" y2="584.5" stroke="#3a3a3a" stroke-width="0.9" />
<rect x="380.7" y="587.0" width="6.6" height="98.3" fill="#E3300F" stroke="#2a2a2a" stroke-width="1.15"/>
<line x1="393.1" y1="587.0" x2="393.1" y2="581.0" stroke="#3a3a3a" stroke-width="0.9" />
<line x1="391.0" y1="581.0" x2="395.2" y2="581.0" stroke="#3a3a3a" stroke-width="0.9" />
<rect x="389.8" y="587.0" width="6.6" height="98.3" fill="#0FB31C" stroke="#2a2a2a" stroke-width="1.15"/>
<line x1="410.5" y1="590.5" x2="410.5" y2="586.5" stroke="#3a3a3a" stroke-width="0.9" />
<line x1="408.4" y1="586.5" x2="412.6" y2="586.5" stroke="#3a3a3a" stroke-width="0.9" />
<rect x="407.2" y="590.5" width="6.6" height="94.8" fill="#2B3CC4" stroke="#2a2a2a" stroke-width="1.15"/>
<line x1="419.6" y1="585.0" x2="419.6" y2="583.0" stroke="#3a3a3a" stroke-width="0.9" />
<line x1="417.5" y1="583.0" x2="421.7" y2="583.0" stroke="#3a3a3a" stroke-width="0.9" />
<rect x="416.3" y="585.0" width="6.6" height="100.3" fill="#F6E11C" stroke="#2a2a2a" stroke-width="1.15"/>
<line x1="428.7" y1="593.5" x2="428.7" y2="588.5" stroke="#3a3a3a" stroke-width="0.9" />
<line x1="426.6" y1="588.5" x2="430.8" y2="588.5" stroke="#3a3a3a" stroke-width="0.9" />
<rect x="425.4" y="593.5" width="6.6" height="91.8" fill="#E3300F" stroke="#2a2a2a" stroke-width="1.15"/>
<line x1="437.8" y1="595.5" x2="437.8" y2="585.5" stroke="#3a3a3a" stroke-width="0.9" />
<line x1="435.7" y1="585.5" x2="439.9" y2="585.5" stroke="#3a3a3a" stroke-width="0.9" />
<rect x="434.5" y="595.5" width="6.6" height="89.8" fill="#0FB31C" stroke="#2a2a2a" stroke-width="1.15"/>
<line x1="455.2" y1="594.5" x2="455.2" y2="585.5" stroke="#3a3a3a" stroke-width="0.9" />
<line x1="453.1" y1="585.5" x2="457.3" y2="585.5" stroke="#3a3a3a" stroke-width="0.9" />
<rect x="451.9" y="594.5" width="6.6" height="90.8" fill="#2B3CC4" stroke="#2a2a2a" stroke-width="1.15"/>
<line x1="464.3" y1="598.5" x2="464.3" y2="588.5" stroke="#3a3a3a" stroke-width="0.9" />
<line x1="462.2" y1="588.5" x2="466.4" y2="588.5" stroke="#3a3a3a" stroke-width="0.9" />
<rect x="461.0" y="598.5" width="6.6" height="86.8" fill="#F6E11C" stroke="#2a2a2a" stroke-width="1.15"/>
<line x1="473.4" y1="594.0" x2="473.4" y2="591.5" stroke="#3a3a3a" stroke-width="0.9" />
<line x1="471.3" y1="591.5" x2="475.5" y2="591.5" stroke="#3a3a3a" stroke-width="0.9" />
<rect x="470.1" y="594.0" width="6.6" height="91.3" fill="#E3300F" stroke="#2a2a2a" stroke-width="1.15"/>
<line x1="482.5" y1="600.0" x2="482.5" y2="595.0" stroke="#3a3a3a" stroke-width="0.9" />
<line x1="480.4" y1="595.0" x2="484.6" y2="595.0" stroke="#3a3a3a" stroke-width="0.9" />
<rect x="479.2" y="600.0" width="6.6" height="85.3" fill="#0FB31C" stroke="#2a2a2a" stroke-width="1.15"/>
<line x1="268.4" y1="535.0" x2="268.4" y2="686.0" stroke="#1a1a1a" stroke-width="1.5" />
<line x1="267.7" y1="685.3" x2="491.5" y2="685.3" stroke="#1a1a1a" stroke-width="1.5" />
<line x1="262.9" y1="685.3" x2="268.4" y2="685.3" stroke="#1a1a1a" stroke-width="1.3" />
<text x="260.8" y="689.1" font-size="10.5" font-weight="bold" text-anchor="end">0</text>
<line x1="262.9" y1="635.4" x2="268.4" y2="635.4" stroke="#1a1a1a" stroke-width="1.3" />
<text x="260.8" y="639.2" font-size="10.5" font-weight="bold" text-anchor="end">50</text>
<line x1="262.9" y1="585.5" x2="268.4" y2="585.5" stroke="#1a1a1a" stroke-width="1.3" />
<text x="260.8" y="589.3" font-size="10.5" font-weight="bold" text-anchor="end">100</text>
<line x1="262.9" y1="535.6" x2="268.4" y2="535.6" stroke="#1a1a1a" stroke-width="1.3" />
<text x="260.8" y="539.4" font-size="10.5" font-weight="bold" text-anchor="end">150</text>
<line x1="289.5" y1="685.3" x2="289.5" y2="690.3" stroke="#1a1a1a" stroke-width="1.3" />
<text x="289.5" y="703.3" font-size="10" font-weight="bold" text-anchor="middle">1</text>
<line x1="334.2" y1="685.3" x2="334.2" y2="690.3" stroke="#1a1a1a" stroke-width="1.3" />
<text x="334.2" y="703.3" font-size="10" font-weight="bold" text-anchor="middle">5</text>
<line x1="378.9" y1="685.3" x2="378.9" y2="690.3" stroke="#1a1a1a" stroke-width="1.3" />
<text x="378.9" y="703.3" font-size="10" font-weight="bold" text-anchor="middle">20</text>
<line x1="423.6" y1="685.3" x2="423.6" y2="690.3" stroke="#1a1a1a" stroke-width="1.3" />
<text x="423.6" y="703.3" font-size="10" font-weight="bold" text-anchor="middle">50</text>
<line x1="468.3" y1="685.3" x2="468.3" y2="690.3" stroke="#1a1a1a" stroke-width="1.3" />
<text x="468.3" y="703.3" font-size="10" font-weight="bold" text-anchor="middle">100</text>
<text x="234.3" y="609.5" font-size="9.3" font-weight="bold" text-anchor="middle" transform="rotate(-90 234.3 609.5)" textLength="76.0" lengthAdjust="spacingAndGlyphs">Cell Viability(%)</text>
<text x="326.3" y="723.2" font-size="9.3" font-weight="bold" textLength="106.5" lengthAdjust="spacingAndGlyphs">Concentration(μg/mL)</text>
<rect x="489.8" y="507.8" width="14.8" height="4.2" fill="#2B3CC4" stroke="#2a2a2a" stroke-width="1.3"/>
<text x="513.9" y="513.1" font-size="9.2" stroke="#1a1a1a" stroke-width="0.15">EXO</text>
<rect x="489.8" y="528.0" width="14.8" height="4.2" fill="#F6E11C" stroke="#2a2a2a" stroke-width="1.3"/>
<text x="513.9" y="533.3" font-size="9.2" stroke="#1a1a1a" stroke-width="0.15">tLyp-1-EXO</text>
<rect x="489.8" y="547.8" width="14.8" height="4.2" fill="#E3300F" stroke="#2a2a2a" stroke-width="1.3"/>
<text x="513.9" y="553.1" font-size="9.2" stroke="#1a1a1a" stroke-width="0.15">tLyp-1-EXO-NC</text>
<rect x="489.8" y="573.5" width="14.8" height="4.2" fill="#0FB31C" stroke="#2a2a2a" stroke-width="1.3"/>
<text x="513.9" y="573.6" font-size="9.2" textLength="68.8" lengthAdjust="spacingAndGlyphs" stroke="#1a1a1a" stroke-width="0.15">tLyp-1-EXO-ASO</text>
<text x="513.9" y="584.3" font-size="9.2" stroke="#1a1a1a" stroke-width="0.15">circRAPGEF5</text>
</g>
<g id="pF">
<text x="578.8" y="532.4" font-size="18.4" font-weight="bold" textLength="9.2" lengthAdjust="spacingAndGlyphs">F</text>
<line x1="635.0" y1="600.5" x2="635.0" y2="618.9" stroke="#E3BC92" stroke-width="0.7" />
<line x1="633.7" y1="600.5" x2="636.3" y2="600.5" stroke="#E3BC92" stroke-width="0.7" />
<line x1="633.7" y1="618.9" x2="636.3" y2="618.9" stroke="#E3BC92" stroke-width="0.7" />
<line x1="656.2" y1="597.8" x2="656.2" y2="618.9" stroke="#E3BC92" stroke-width="0.7" />
<line x1="654.9" y1="597.8" x2="657.5" y2="597.8" stroke="#E3BC92" stroke-width="0.7" />
<line x1="654.9" y1="618.9" x2="657.5" y2="618.9" stroke="#E3BC92" stroke-width="0.7" />
<line x1="677.4" y1="595.9" x2="677.4" y2="616.9" stroke="#E3BC92" stroke-width="0.7" />
<line x1="676.1" y1="595.9" x2="678.7" y2="595.9" stroke="#E3BC92" stroke-width="0.7" />
<line x1="676.1" y1="616.9" x2="678.7" y2="616.9" stroke="#E3BC92" stroke-width="0.7" />
<line x1="698.6" y1="592.6" x2="698.6" y2="614.9" stroke="#E3BC92" stroke-width="0.7" />
<line x1="697.3" y1="592.6" x2="699.9" y2="592.6" stroke="#E3BC92" stroke-width="0.7" />
<line x1="697.3" y1="614.9" x2="699.9" y2="614.9" stroke="#E3BC92" stroke-width="0.7" />
<line x1="719.8" y1="591.3" x2="719.8" y2="613.6" stroke="#E3BC92" stroke-width="0.7" />
<line x1="718.5" y1="591.3" x2="721.1" y2="591.3" stroke="#E3BC92" stroke-width="0.7" />
<line x1="718.5" y1="613.6" x2="721.1" y2="613.6" stroke="#E3BC92" stroke-width="0.7" />
<line x1="741.0" y1="591.9" x2="741.0" y2="613.0" stroke="#E3BC92" stroke-width="0.7" />
<line x1="739.7" y1="591.9" x2="742.3" y2="591.9" stroke="#E3BC92" stroke-width="0.7" />
<line x1="739.7" y1="613.0" x2="742.3" y2="613.0" stroke="#E3BC92" stroke-width="0.7" />
<line x1="762.2" y1="591.3" x2="762.2" y2="614.9" stroke="#E3BC92" stroke-width="0.7" />
<line x1="760.9" y1="591.3" x2="763.5" y2="591.3" stroke="#E3BC92" stroke-width="0.7" />
<line x1="760.9" y1="614.9" x2="763.5" y2="614.9" stroke="#E3BC92" stroke-width="0.7" />
<line x1="635.0" y1="600.5" x2="635.0" y2="617.6" stroke="#DDA594" stroke-width="0.7" />
<line x1="633.7" y1="600.5" x2="636.3" y2="600.5" stroke="#DDA594" stroke-width="0.7" />
<line x1="633.7" y1="617.6" x2="636.3" y2="617.6" stroke="#DDA594" stroke-width="0.7" />
<line x1="656.2" y1="597.2" x2="656.2" y2="616.9" stroke="#DDA594" stroke-width="0.7" />
<line x1="654.9" y1="597.2" x2="657.5" y2="597.2" stroke="#DDA594" stroke-width="0.7" />
<line x1="654.9" y1="616.9" x2="657.5" y2="616.9" stroke="#DDA594" stroke-width="0.7" />
<line x1="677.4" y1="594.6" x2="677.4" y2="616.9" stroke="#DDA594" stroke-width="0.7" />
<line x1="676.1" y1="594.6" x2="678.7" y2="594.6" stroke="#DDA594" stroke-width="0.7" />
<line x1="676.1" y1="616.9" x2="678.7" y2="616.9" stroke="#DDA594" stroke-width="0.7" />
<line x1="698.6" y1="591.9" x2="698.6" y2="615.6" stroke="#DDA594" stroke-width="0.7" />
<line x1="697.3" y1="591.9" x2="699.9" y2="591.9" stroke="#DDA594" stroke-width="0.7" />
<line x1="697.3" y1="615.6" x2="699.9" y2="615.6" stroke="#DDA594" stroke-width="0.7" />
<line x1="719.8" y1="590.6" x2="719.8" y2="613.0" stroke="#DDA594" stroke-width="0.7" />
<line x1="718.5" y1="590.6" x2="721.1" y2="590.6" stroke="#DDA594" stroke-width="0.7" />
<line x1="718.5" y1="613.0" x2="721.1" y2="613.0" stroke="#DDA594" stroke-width="0.7" />
<line x1="741.0" y1="590.6" x2="741.0" y2="613.0" stroke="#DDA594" stroke-width="0.7" />
<line x1="739.7" y1="590.6" x2="742.3" y2="590.6" stroke="#DDA594" stroke-width="0.7" />
<line x1="739.7" y1="613.0" x2="742.3" y2="613.0" stroke="#DDA594" stroke-width="0.7" />
<line x1="762.2" y1="593.6" x2="762.2" y2="612.0" stroke="#DDA594" stroke-width="0.7" />
<line x1="760.9" y1="593.6" x2="763.5" y2="593.6" stroke="#DDA594" stroke-width="0.7" />
<line x1="760.9" y1="612.0" x2="763.5" y2="612.0" stroke="#DDA594" stroke-width="0.7" />
<line x1="635.0" y1="601.1" x2="635.0" y2="607.7" stroke="#9fb0dc" stroke-width="0.7" />
<line x1="633.7" y1="601.1" x2="636.3" y2="601.1" stroke="#9fb0dc" stroke-width="0.7" />
<line x1="633.7" y1="607.7" x2="636.3" y2="607.7" stroke="#9fb0dc" stroke-width="0.7" />
<line x1="656.2" y1="596.2" x2="656.2" y2="610.7" stroke="#9fb0dc" stroke-width="0.7" />
<line x1="654.9" y1="596.2" x2="657.5" y2="596.2" stroke="#9fb0dc" stroke-width="0.7" />
<line x1="654.9" y1="610.7" x2="657.5" y2="610.7" stroke="#9fb0dc" stroke-width="0.7" />
<line x1="677.4" y1="596.9" x2="677.4" y2="608.7" stroke="#9fb0dc" stroke-width="0.7" />
<line x1="676.1" y1="596.9" x2="678.7" y2="596.9" stroke="#9fb0dc" stroke-width="0.7" />
<line x1="676.1" y1="608.7" x2="678.7" y2="608.7" stroke="#9fb0dc" stroke-width="0.7" />
<line x1="698.6" y1="597.2" x2="698.6" y2="605.1" stroke="#9fb0dc" stroke-width="0.7" />
<line x1="697.3" y1="597.2" x2="699.9" y2="597.2" stroke="#9fb0dc" stroke-width="0.7" />
<line x1="697.3" y1="605.1" x2="699.9" y2="605.1" stroke="#9fb0dc" stroke-width="0.7" />
<line x1="719.8" y1="597.2" x2="719.8" y2="603.8" stroke="#9fb0dc" stroke-width="0.7" />
<line x1="718.5" y1="597.2" x2="721.1" y2="597.2" stroke="#9fb0dc" stroke-width="0.7" />
<line x1="718.5" y1="603.8" x2="721.1" y2="603.8" stroke="#9fb0dc" stroke-width="0.7" />
<line x1="741.0" y1="596.2" x2="741.0" y2="602.8" stroke="#9fb0dc" stroke-width="0.7" />
<line x1="739.7" y1="596.2" x2="742.3" y2="596.2" stroke="#9fb0dc" stroke-width="0.7" />
<line x1="739.7" y1="602.8" x2="742.3" y2="602.8" stroke="#9fb0dc" stroke-width="0.7" />
<line x1="762.2" y1="597.5" x2="762.2" y2="604.1" stroke="#9fb0dc" stroke-width="0.7" />
<line x1="760.9" y1="597.5" x2="763.5" y2="597.5" stroke="#9fb0dc" stroke-width="0.7" />
<line x1="760.9" y1="604.1" x2="763.5" y2="604.1" stroke="#9fb0dc" stroke-width="0.7" />
<polyline fill="none" stroke="#E0AE8E" stroke-width="1.7" points="635.0,609.7 656.2,608.4 677.4,606.4 698.6,603.8 719.8,602.4 741.0,602.4 762.2,603.1"/>
<polyline fill="none" stroke="#DBA591" stroke-width="1.7" points="635.0,609.0 656.2,607.0 677.4,605.7 698.6,603.8 719.8,601.8 741.0,601.8 762.2,602.8"/>
<polyline fill="none" stroke="#4F95E8" stroke-width="1.1" points="635.0,604.4 656.2,603.4 677.4,602.8 698.6,601.1 719.8,600.5 741.0,599.5 762.2,600.8"/>
<circle cx="635.0" cy="609.7" r="1.1" fill="#F5D21C"/>
<circle cx="656.2" cy="608.4" r="1.1" fill="#F5D21C"/>
<circle cx="677.4" cy="606.4" r="1.1" fill="#F5D21C"/>
<circle cx="698.6" cy="603.8" r="1.1" fill="#F5D21C"/>
<circle cx="719.8" cy="602.4" r="1.1" fill="#F5D21C"/>
<circle cx="741.0" cy="602.4" r="1.1" fill="#F5D21C"/>
<circle cx="762.2" cy="603.1" r="1.1" fill="#F5D21C"/>
<rect x="634.1" y="608.1" width="1.8" height="1.8" fill="#E01818"/>
<rect x="655.3" y="606.1" width="1.8" height="1.8" fill="#E01818"/>
<rect x="676.5" y="604.8" width="1.8" height="1.8" fill="#E01818"/>
<rect x="697.7" y="602.9" width="1.8" height="1.8" fill="#E01818"/>
<rect x="718.9" y="600.9" width="1.8" height="1.8" fill="#E01818"/>
<rect x="740.1" y="600.9" width="1.8" height="1.8" fill="#E01818"/>
<rect x="761.3" y="601.9" width="1.8" height="1.8" fill="#E01818"/>
<path d="M633.9,605.3 L636.1,605.3 L635.0,603.3 Z" fill="#1C2FB0"/>
<path d="M655.1,604.3 L657.3,604.3 L656.2,602.3 Z" fill="#1C2FB0"/>
<path d="M676.3,603.7 L678.5,603.7 L677.4,601.7 Z" fill="#1C2FB0"/>
<path d="M697.5,602.0 L699.7,602.0 L698.6,600.0 Z" fill="#1C2FB0"/>
<path d="M718.7,601.4 L720.9,601.4 L719.8,599.4 Z" fill="#1C2FB0"/>
<path d="M739.9,600.4 L742.1,600.4 L741.0,598.4 Z" fill="#1C2FB0"/>
<path d="M761.1,601.7 L763.3,601.7 L762.2,599.7 Z" fill="#1C2FB0"/>
<line x1="613.8" y1="565.8" x2="613.8" y2="664.8" stroke="#444" stroke-width="0.9" />
<line x1="613.3" y1="664.5" x2="770.0" y2="664.5" stroke="#1a1a1a" stroke-width="1.3" />
<line x1="610.3" y1="658.3" x2="613.8" y2="658.3" stroke="#1a1a1a" stroke-width="0.9" />
<text x="609.1" y="661.0" font-size="7.4" font-weight="bold" text-anchor="end">16</text>
<line x1="610.3" y1="645.2" x2="613.8" y2="645.2" stroke="#1a1a1a" stroke-width="0.9" />
<text x="609.1" y="647.9" font-size="7.4" font-weight="bold" text-anchor="end">18</text>
<line x1="610.3" y1="632.0" x2="613.8" y2="632.0" stroke="#1a1a1a" stroke-width="0.9" />
<text x="609.1" y="634.7" font-size="7.4" font-weight="bold" text-anchor="end">20</text>
<line x1="610.3" y1="618.9" x2="613.8" y2="618.9" stroke="#1a1a1a" stroke-width="0.9" />
<text x="609.1" y="621.6" font-size="7.4" font-weight="bold" text-anchor="end">22</text>
<line x1="610.3" y1="605.7" x2="613.8" y2="605.7" stroke="#1a1a1a" stroke-width="0.9" />
<text x="609.1" y="608.4" font-size="7.4" font-weight="bold" text-anchor="end">24</text>
<line x1="610.3" y1="592.6" x2="613.8" y2="592.6" stroke="#1a1a1a" stroke-width="0.9" />
<text x="609.1" y="595.3" font-size="7.4" font-weight="bold" text-anchor="end">26</text>
<line x1="610.3" y1="579.4" x2="613.8" y2="579.4" stroke="#1a1a1a" stroke-width="0.9" />
<text x="609.1" y="582.1" font-size="7.4" font-weight="bold" text-anchor="end">28</text>
<line x1="610.3" y1="566.3" x2="613.8" y2="566.3" stroke="#1a1a1a" stroke-width="0.9" />
<text x="609.1" y="569.0" font-size="7.4" font-weight="bold" text-anchor="end">30</text>
<text x="613.8" y="677.0" font-size="7.4" font-weight="bold" text-anchor="middle">0</text>
<text x="635.0" y="677.0" font-size="7.4" font-weight="bold" text-anchor="middle">4</text>
<text x="656.2" y="677.0" font-size="7.4" font-weight="bold" text-anchor="middle">8</text>
<text x="677.4" y="677.0" font-size="7.4" font-weight="bold" text-anchor="middle">12</text>
<text x="698.6" y="677.0" font-size="7.4" font-weight="bold" text-anchor="middle">16</text>
<text x="719.8" y="677.0" font-size="7.4" font-weight="bold" text-anchor="middle">20</text>
<text x="741.0" y="677.0" font-size="7.4" font-weight="bold" text-anchor="middle">24</text>
<text x="762.2" y="677.0" font-size="7.4" font-weight="bold" text-anchor="middle">28</text>
<line x1="613.8" y1="664.3" x2="613.8" y2="668.5" stroke="#2a2a2a" stroke-width="1.0" />
<line x1="635.0" y1="664.3" x2="635.0" y2="668.5" stroke="#2a2a2a" stroke-width="1.0" />
<line x1="656.2" y1="664.3" x2="656.2" y2="668.5" stroke="#2a2a2a" stroke-width="1.0" />
<line x1="677.4" y1="664.3" x2="677.4" y2="668.5" stroke="#2a2a2a" stroke-width="1.0" />
<line x1="698.6" y1="664.3" x2="698.6" y2="668.5" stroke="#2a2a2a" stroke-width="1.0" />
<line x1="719.8" y1="664.3" x2="719.8" y2="668.5" stroke="#2a2a2a" stroke-width="1.0" />
<line x1="741.0" y1="664.3" x2="741.0" y2="668.5" stroke="#2a2a2a" stroke-width="1.0" />
<line x1="762.2" y1="664.3" x2="762.2" y2="668.5" stroke="#2a2a2a" stroke-width="1.0" />
<text x="690.5" y="688.4" font-size="8" font-weight="bold" text-anchor="middle" textLength="29.5" lengthAdjust="spacingAndGlyphs">Days(n)</text>
<text x="595.2" y="615.3" font-size="7.6" font-weight="bold" text-anchor="middle" transform="rotate(-90 595.2 615.3)" textLength="57.5" lengthAdjust="spacingAndGlyphs">Body weight(g)</text>
<line x1="645.0" y1="538.5" x2="656.5" y2="538.5" stroke="#E4A97C" stroke-width="0.9" />
<circle cx="650.8" cy="538.5" r="1.1" fill="#F5D21C"/>
<line x1="645.0" y1="551.7" x2="656.5" y2="551.7" stroke="#DDA08F" stroke-width="0.9" />
<rect x="649.9" y="550.8" width="1.8" height="1.8" fill="#E01818"/>
<line x1="645.0" y1="570.0" x2="656.5" y2="570.0" stroke="#4A6FD8" stroke-width="0.9" />
<path d="M649.6999999999999,570.9 L651.9,570.9 L650.8,568.9 Z" fill="#1C2FB0"/>
<text x="661.9" y="541.3" font-size="8" stroke="#1a1a1a" stroke-width="0.15">PBS</text>
<text x="661.9" y="554.6" font-size="8" textLength="56.5" lengthAdjust="spacingAndGlyphs" stroke="#1a1a1a" stroke-width="0.15">tlyp-1-EXO-NC</text>
<text x="661.9" y="567.6" font-size="8" textLength="44.5" lengthAdjust="spacingAndGlyphs" stroke="#1a1a1a" stroke-width="0.15">tlyp-1-EXO-</text>
<text x="661.9" y="577.4" font-size="8" textLength="73.0" lengthAdjust="spacingAndGlyphs" stroke="#1a1a1a" stroke-width="0.15">ASO circRAPGEF5</text>
</g>
<g id="pG">
<defs>
<clipPath id="gt00"><rect x="0" y="0" width="97.8" height="73.0"/></clipPath>
<filter id="g1" x="0" y="0" width="1" height="1" color-interpolation-filters="sRGB"><feTurbulence type="fractalNoise" baseFrequency="0.3 0.9" numOctaves="2" seed="23"/><feColorMatrix type="matrix" values="0 0 0 0 0.855  0 0 0 0 0.447  0 0 0 0 0.855  16 0 0 0 -7.93"/><feComposite in2="SourceGraphic" operator="in"/></filter>
<filter id="g2" x="0" y="0" width="1" height="1" color-interpolation-filters="sRGB"><feTurbulence type="fractalNoise" baseFrequency="0.25 0.9" numOctaves="2" seed="26"/><feColorMatrix type="matrix" values="0 0 0 0 0.918  0 0 0 0 0.886  0 0 0 0 0.918  16 0 0 0 -10.88"/><feComposite in2="SourceGraphic" operator="in"/></filter>
<filter id="g3" x="0" y="0" width="1" height="1" color-interpolation-filters="sRGB"><feTurbulence type="fractalNoise" baseFrequency="0.9" numOctaves="1" seed="76"/><feColorMatrix type="matrix" values="0 0 0 0 0.855  0 0 0 0 0.447  0 0 0 0 0.855  16 0 0 0 -8.21"/><feComposite in2="SourceGraphic" operator="in"/></filter>
<clipPath id="gt01"><rect x="0" y="0" width="97.8" height="73.0"/></clipPath>
<filter id="g4" x="0" y="0" width="1" height="1" color-interpolation-filters="sRGB"><feTurbulence type="fractalNoise" baseFrequency="0.8" numOctaves="2" seed="29"/><feColorMatrix type="matrix" values="0 0 0 0 0.855  0 0 0 0 0.447  0 0 0 0 0.855  16 0 0 0 -9.87"/><feComposite in2="SourceGraphic" operator="in"/></filter>
<filter id="g5" x="0" y="0" width="1" height="1" color-interpolation-filters="sRGB"><feTurbulence type="fractalNoise" baseFrequency="0.8 0.4" numOctaves="2" seed="32"/><feColorMatrix type="matrix" values="0 0 0 0 0.918  0 0 0 0 0.886  0 0 0 0 0.918  16 0 0 0 -10.08"/><feComposite in2="SourceGraphic" operator="in"/></filter>
<filter id="g6" x="0" y="0" width="1" height="1" color-interpolation-filters="sRGB"><feTurbulence type="fractalNoise" baseFrequency="0.9" numOctaves="2" seed="35"/><feColorMatrix type="matrix" values="0 0 0 0 0.455  0 0 0 0 0.157  0 0 0 0 0.624  16 0 0 0 -11.16"/><feComposite in2="SourceGraphic" operator="in"/></filter>
<clipPath id="gt02"><rect x="0" y="0" width="98.5" height="73.0"/></clipPath>
<filter id="g7" x="0" y="0" width="1" height="1" color-interpolation-filters="sRGB"><feTurbulence type="fractalNoise" baseFrequency="0.8" numOctaves="2" seed="38"/><feColorMatrix type="matrix" values="0 0 0 0 0.855  0 0 0 0 0.447  0 0 0 0 0.855  16 0 0 0 -9.65"/><feComposite in2="SourceGraphic" operator="in"/></filter>
<filter id="g8" x="0" y="0" width="1" height="1" color-interpolation-filters="sRGB"><feTurbulence type="fractalNoise" baseFrequency="0.9" numOctaves="2" seed="41"/><feColorMatrix type="matrix" values="0 0 0 0 0.918  0 0 0 0 0.886  0 0 0 0 0.918  16 0 0 0 -11.84"/><feComposite in2="SourceGraphic" operator="in"/></filter>
<filter id="g9" x="0" y="0" width="1" height="1" color-interpolation-filters="sRGB"><feTurbulence type="fractalNoise" baseFrequency="0.9" numOctaves="1" seed="77"/><feColorMatrix type="matrix" values="0 0 0 0 0.455  0 0 0 0 0.157  0 0 0 0 0.624  16 0 0 0 -10.19"/><feComposite in2="SourceGraphic" operator="in"/></filter>
<filter id="g10" x="0" y="0" width="1" height="1" color-interpolation-filters="sRGB"><feTurbulence type="fractalNoise" baseFrequency="0.8" numOctaves="2" seed="74"/><feColorMatrix type="matrix" values="0 0 0 0 0.855  0 0 0 0 0.447  0 0 0 0 0.855  16 0 0 0 -8.50"/><feComposite in2="SourceGraphic" operator="in"/></filter>
<clipPath id="gt03"><rect x="0" y="0" width="99.0" height="73.0"/></clipPath>
<filter id="g11" x="0" y="0" width="1" height="1" color-interpolation-filters="sRGB"><feTurbulence type="fractalNoise" baseFrequency="0.5" numOctaves="2" seed="44"/><feColorMatrix type="matrix" values="0 0 0 0 0.855  0 0 0 0 0.447  0 0 0 0 0.855  16 0 0 0 -8.50"/><feComposite in2="SourceGraphic" operator="in"/></filter>
<filter id="g12" x="0" y="0" width="1" height="1" color-interpolation-filters="sRGB"><feTurbulence type="fractalNoise" baseFrequency="0.7 0.35" numOctaves="2" seed="47"/><feColorMatrix type="matrix" values="0 0 0 0 0.918  0 0 0 0 0.886  0 0 0 0 0.918  16 0 0 0 -9.76"/><feComposite in2="SourceGraphic" operator="in"/></filter>
<clipPath id="gt10"><rect x="0" y="0" width="97.8" height="73.5"/></clipPath>
<filter id="g13" x="0" y="0" width="1" height="1" color-interpolation-filters="sRGB"><feTurbulence type="fractalNoise" baseFrequency="0.9" numOctaves="2" seed="50"/><feColorMatrix type="matrix" values="0 0 0 0 0.765  0 0 0 0 0.208  0 0 0 0 0.788  16 0 0 0 -8.88"/><feComposite in2="SourceGraphic" operator="in"/></filter>
<filter id="g14" x="0" y="0" width="1" height="1" color-interpolation-filters="sRGB"><feTurbulence type="fractalNoise" baseFrequency="0.9 0.2" numOctaves="2" seed="53"/><feColorMatrix type="matrix" values="0 0 0 0 0.918  0 0 0 0 0.886  0 0 0 0 0.918  16 0 0 0 -10.59"/><feComposite in2="SourceGraphic" operator="in"/></filter>
<filter id="g15" x="0" y="0" width="1" height="1" color-interpolation-filters="sRGB"><feTurbulence type="fractalNoise" baseFrequency="0.9 0.12" numOctaves="2" seed="75"/><feColorMatrix type="matrix" values="0 0 0 0 0.918  0 0 0 0 0.886  0 0 0 0 0.918  16 0 0 0 -9.76"/><feComposite in2="SourceGraphic" operator="in"/></filter>
<clipPath id="gt11"><rect x="0" y="0" width="97.8" height="73.5"/></clipPath>
<filter id="g16" x="0" y="0" width="1" height="1" color-interpolation-filters="sRGB"><feTurbulence type="fractalNoise" baseFrequency="0.83" numOctaves="2" seed="56"/><feColorMatrix type="matrix" values="0 0 0 0 0.855  0 0 0 0 0.447  0 0 0 0 0.855  16 0 0 0 -10.59"/><feComposite in2="SourceGraphic" operator="in"/></filter>
<filter id="g17" x="0" y="0" width="1" height="1" color-interpolation-filters="sRGB"><feTurbulence type="fractalNoise" baseFrequency="0.71" numOctaves="2" seed="59"/><feColorMatrix type="matrix" values="0 0 0 0 0.455  0 0 0 0 0.157  0 0 0 0 0.624  16 0 0 0 -9.18"/><feComposite in2="SourceGraphic" operator="in"/></filter>
<filter id="g18" x="0" y="0" width="1" height="1" color-interpolation-filters="sRGB"><feTurbulence type="fractalNoise" baseFrequency="0.87" numOctaves="2" seed="62"/><feColorMatrix type="matrix" values="0 0 0 0 0.918  0 0 0 0 0.886  0 0 0 0 0.918  16 0 0 0 -11.32"/><feComposite in2="SourceGraphic" operator="in"/></filter>
<clipPath id="gt12"><rect x="0" y="0" width="98.5" height="73.5"/></clipPath>
<filter id="g19" x="0" y="0" width="1" height="1" color-interpolation-filters="sRGB"><feTurbulence type="fractalNoise" baseFrequency="0.8" numOctaves="2" seed="65"/><feColorMatrix type="matrix" values="0 0 0 0 0.765  0 0 0 0 0.208  0 0 0 0 0.788  16 0 0 0 -8.50"/><feComposite in2="SourceGraphic" operator="in"/></filter>
<filter id="g20" x="0" y="0" width="1" height="1" color-interpolation-filters="sRGB"><feTurbulence type="fractalNoise" baseFrequency="0.7" numOctaves="2" seed="68"/><feColorMatrix type="matrix" values="0 0 0 0 0.918  0 0 0 0 0.886  0 0 0 0 0.918  16 0 0 0 -9.18"/><feComposite in2="SourceGraphic" operator="in"/></filter>
<filter id="g21" x="0" y="0" width="1" height="1" color-interpolation-filters="sRGB"><feTurbulence type="fractalNoise" baseFrequency="0.8" numOctaves="2" seed="78"/><feColorMatrix type="matrix" values="0 0 0 0 0.765  0 0 0 0 0.208  0 0 0 0 0.788  16 0 0 0 -8.15"/><feComposite in2="SourceGraphic" operator="in"/></filter>
<clipPath id="gt13"><rect x="0" y="0" width="99.0" height="73.5"/></clipPath>
<filter id="g22" x="0" y="0" width="1" height="1" color-interpolation-filters="sRGB"><feTurbulence type="fractalNoise" baseFrequency="0.9" numOctaves="2" seed="71"/><feColorMatrix type="matrix" values="0 0 0 0 0.765  0 0 0 0 0.208  0 0 0 0 0.788  16 0 0 0 -11.16"/><feComposite in2="SourceGraphic" operator="in"/></filter>
<filter id="g23" x="0" y="0" width="1" height="1" color-interpolation-filters="sRGB"><feTurbulence type="fractalNoise" baseFrequency="0.42" numOctaves="2" seed="74"/><feColorMatrix type="matrix" values="0 0 0 0 0.918  0 0 0 0 0.886  0 0 0 0 0.918  16 0 0 0 -8.15"/><feComposite in2="SourceGraphic" operator="in"/></filter>
<clipPath id="gt20"><rect x="0" y="0" width="97.8" height="73.2"/></clipPath>
<filter id="g24" x="0" y="0" width="1" height="1" color-interpolation-filters="sRGB"><feTurbulence type="fractalNoise" baseFrequency="0.35 0.9" numOctaves="2" seed="77"/><feColorMatrix type="matrix" values="0 0 0 0 0.765  0 0 0 0 0.208  0 0 0 0 0.788  16 0 0 0 -8.03"/><feComposite in2="SourceGraphic" operator="in"/></filter>
<filter id="g25" x="0" y="0" width="1" height="1" color-interpolation-filters="sRGB"><feTurbulence type="fractalNoise" baseFrequency="0.3 0.9" numOctaves="2" seed="80"/><feColorMatrix type="matrix" values="0 0 0 0 0.918  0 0 0 0 0.886  0 0 0 0 0.918  16 0 0 0 -11.52"/><feComposite in2="SourceGraphic" operator="in"/></filter>
<clipPath id="gt21"><rect x="0" y="0" width="97.8" height="73.2"/></clipPath>
<filter id="g26" x="0" y="0" width="1" height="1" color-interpolation-filters="sRGB"><feTurbulence type="fractalNoise" baseFrequency="0.3 0.9" numOctaves="2" seed="83"/><feColorMatrix type="matrix" values="0 0 0 0 0.855  0 0 0 0 0.447  0 0 0 0 0.855  16 0 0 0 -9.03"/><feComposite in2="SourceGraphic" operator="in"/></filter>
<filter id="g27" x="0" y="0" width="1" height="1" color-interpolation-filters="sRGB"><feTurbulence type="fractalNoise" baseFrequency="0.4 0.9" numOctaves="2" seed="86"/><feColorMatrix type="matrix" values="0 0 0 0 0.918  0 0 0 0 0.886  0 0 0 0 0.918  16 0 0 0 -9.87"/><feComposite in2="SourceGraphic" operator="in"/></filter>
<clipPath id="gt22"><rect x="0" y="0" width="98.5" height="73.2"/></clipPath>
<filter id="g28" x="0" y="0" width="1" height="1" color-interpolation-filters="sRGB"><feTurbulence type="fractalNoise" baseFrequency="0.8" numOctaves="2" seed="89"/><feColorMatrix type="matrix" values="0 0 0 0 0.765  0 0 0 0 0.208  0 0 0 0 0.788  16 0 0 0 -9.03"/><feComposite in2="SourceGraphic" operator="in"/></filter>
<filter id="g29" x="0" y="0" width="1" height="1" color-interpolation-filters="sRGB"><feTurbulence type="fractalNoise" baseFrequency="0.7" numOctaves="2" seed="92"/><feColorMatrix type="matrix" values="0 0 0 0 0.918  0 0 0 0 0.886  0 0 0 0 0.918  16 0 0 0 -9.65"/><feComposite in2="SourceGraphic" operator="in"/></filter>
<filter id="g30" x="0" y="0" width="1" height="1" color-interpolation-filters="sRGB"><feTurbulence type="fractalNoise" baseFrequency="0.5" numOctaves="2" seed="79"/><feColorMatrix type="matrix" values="0 0 0 0 0.918  0 0 0 0 0.886  0 0 0 0 0.918  16 0 0 0 -7.47"/><feComposite in2="SourceGraphic" operator="in"/></filter>
<clipPath id="gt23"><rect x="0" y="0" width="99.0" height="73.2"/></clipPath>
<filter id="g31" x="0" y="0" width="1" height="1" color-interpolation-filters="sRGB"><feTurbulence type="fractalNoise" baseFrequency="0.45" numOctaves="2" seed="95"/><feColorMatrix type="matrix" values="0 0 0 0 0.855  0 0 0 0 0.447  0 0 0 0 0.855  16 0 0 0 -7.75"/><feComposite in2="SourceGraphic" operator="in"/></filter>
<filter id="g32" x="0" y="0" width="1" height="1" color-interpolation-filters="sRGB"><feTurbulence type="fractalNoise" baseFrequency="0.7" numOctaves="2" seed="98"/><feColorMatrix type="matrix" values="0 0 0 0 0.918  0 0 0 0 0.886  0 0 0 0 0.918  16 0 0 0 -9.97"/><feComposite in2="SourceGraphic" operator="in"/></filter>
</defs>
<text x="3.6" y="772.9" font-size="18.7" font-weight="bold" textLength="13.4" lengthAdjust="spacingAndGlyphs">G</text>
<text x="143.8" y="770.3" font-size="12.6" font-weight="bold" text-anchor="middle" textLength="32.5" lengthAdjust="spacingAndGlyphs">Heart</text>
<text x="251.3" y="767.0" font-size="12.6" font-weight="bold" text-anchor="middle" textLength="29.0" lengthAdjust="spacingAndGlyphs">Liver</text>
<text x="360.0" y="767.7" font-size="12.6" font-weight="bold" text-anchor="middle" textLength="40.5" lengthAdjust="spacingAndGlyphs">Spleen</text>
<text x="463.2" y="767.5" font-size="12.6" font-weight="bold" text-anchor="middle" textLength="41.0" lengthAdjust="spacingAndGlyphs">Kidney</text>
<text x="53.5" y="892.6" font-size="15.6" font-weight="bold" text-anchor="middle" transform="rotate(-90 53.5 892.6)" textLength="18.8" lengthAdjust="spacingAndGlyphs">HE</text>
<line x1="63.2" y1="814.2" x2="63.2" y2="985.9" stroke="#1a1a1a" stroke-width="1.9" />
<text x="84.2" y="809.6" font-size="10.5" font-weight="bold" text-anchor="middle" transform="rotate(-90 84.2 809.6)" textLength="20.6" lengthAdjust="spacingAndGlyphs">PBS</text>
<text x="84.9" y="890.5" font-size="10.5" font-weight="bold" text-anchor="middle" transform="rotate(-90 84.9 890.5)" textLength="73.5" lengthAdjust="spacingAndGlyphs">tLyp-1-EXO-NC</text>
<text x="80.0" y="977.6" font-size="10.5" font-weight="bold" text-anchor="middle" transform="rotate(-90 80.0 977.6)" textLength="81.4" lengthAdjust="spacingAndGlyphs">tLyp-1-EXO-ASO</text>
<text x="92.2" y="976.9" font-size="10.5" font-weight="bold" text-anchor="middle" transform="rotate(-90 92.2 976.9)" textLength="65.6" lengthAdjust="spacingAndGlyphs">circRAPGEF5</text>
<g transform="translate(98.3,776.4)" clip-path="url(#gt00)">
<rect x="0.0" y="0.0" width="97.8" height="73.0" fill="#C335C9"/>
<rect x="-80" y="-80" width="260" height="240" fill="#000" filter="url(#g1)" transform="rotate(-50 48.9 36.5)"/>
<rect x="-80" y="-80" width="260" height="240" fill="#000" filter="url(#g2)" transform="rotate(-50 48.9 36.5)"/>
<path d="M0,0 L70,0 L30,35 L0,60 Z" fill="#000" filter="url(#g3)"/>
<path d="M36,66 q5,-3 12,-5" fill="none" stroke="#E6DCE6" stroke-width="1.6"/>
<line x1="74.4" y1="68.6" x2="93.8" y2="68.6" stroke="#14101c" stroke-width="1.5" />
<text x="84.2" y="65.6" font-size="6.3" text-anchor="middle" textLength="15.5" lengthAdjust="spacingAndGlyphs" fill="#2a1c50">50μm</text>
</g>
<g transform="translate(204.2,776.4)" clip-path="url(#gt01)">
<rect x="0.0" y="0.0" width="97.8" height="73.0" fill="#C335C9"/>
<rect x="0" y="0" width="97.8" height="73.0" fill="#000" filter="url(#g4)"/>
<rect x="-80" y="-80" width="260" height="240" fill="#000" filter="url(#g5)" transform="rotate(30 48.9 36.5)"/>
<rect x="0" y="0" width="97.8" height="73.0" fill="#000" filter="url(#g6)"/>
<path d="M30,14 Q45,20 58,24 Q72,27 82,34 L96,40" fill="none" stroke="#F0E4EE" stroke-width="1.6"/>
<path d="M5,60 q6,-3 10,2" fill="none" stroke="#F0E4EE" stroke-width="1.4"/>
<line x1="74.4" y1="68.6" x2="93.8" y2="68.6" stroke="#14101c" stroke-width="1.5" />
<text x="84.2" y="65.6" font-size="6.3" text-anchor="middle" textLength="15.5" lengthAdjust="spacingAndGlyphs" fill="#2a1c50">50μm</text>
</g>
<g transform="translate(309.5,776.4)" clip-path="url(#gt02)">
<rect x="0.0" y="0.0" width="98.5" height="73.0" fill="#C335C9"/>
<rect x="0" y="0" width="98.5" height="73.0" fill="#000" filter="url(#g7)"/>
<rect x="0" y="0" width="98.5" height="73.0" fill="#000" filter="url(#g8)"/>
<ellipse cx="52" cy="34" rx="38" ry="32" fill="#000" filter="url(#g9)"/>
<path d="M0,0 L14,0 L8,40 L20,66 L60,73 L97,60 L97,73 L0,73 Z M86,0 L97,0 L97,40 Z" fill="#000" filter="url(#g10)"/>
<line x1="74.4" y1="68.6" x2="93.8" y2="68.6" stroke="#14101c" stroke-width="1.5" />
<text x="84.2" y="65.6" font-size="6.3" text-anchor="middle" textLength="15.5" lengthAdjust="spacingAndGlyphs" fill="#2a1c50">50μm</text>
</g>
<g transform="translate(415.0,776.4)" clip-path="url(#gt03)">
<rect x="0.0" y="0.0" width="99.0" height="73.0" fill="#C335C9"/>
<rect x="0" y="0" width="99.0" height="73.0" fill="#000" filter="url(#g11)"/>
<rect x="-80" y="-80" width="260" height="240" fill="#000" filter="url(#g12)" transform="rotate(-30 49.5 36.5)"/>
<line x1="74.4" y1="68.6" x2="93.8" y2="68.6" stroke="#14101c" stroke-width="1.5" />
<text x="84.2" y="65.6" font-size="6.3" text-anchor="middle" textLength="15.5" lengthAdjust="spacingAndGlyphs" fill="#2a1c50">50μm</text>
</g>
<g transform="translate(98.3,857.1)" clip-path="url(#gt10)">
<rect x="0.0" y="0.0" width="97.8" height="73.5" fill="#DA72DA"/>
<rect x="0" y="0" width="97.8" height="73.5" fill="#000" filter="url(#g13)"/>
<rect x="0" y="0" width="97.8" height="73.5" fill="#000" filter="url(#g14)"/>
<path d="M0,0 L62,0 L54,10 L40,18 L22,24 L8,32 L0,30 Z" fill="#000" filter="url(#g15)" opacity="0.8"/>
<line x1="74.4" y1="68.6" x2="93.8" y2="68.6" stroke="#14101c" stroke-width="1.5" />
<text x="84.2" y="65.6" font-size="6.3" text-anchor="middle" textLength="15.5" lengthAdjust="spacingAndGlyphs" fill="#2a1c50">50μm</text>
</g>
<g transform="translate(204.2,857.1)" clip-path="url(#gt11)">
<rect x="0.0" y="0.0" width="97.8" height="73.5" fill="#C335C9"/>
<rect x="0" y="0" width="97.8" height="73.5" fill="#000" filter="url(#g16)"/>
<rect x="-80" y="-80" width="260" height="240" fill="#000" filter="url(#g17)" transform="rotate(17 48.9 36.8)"/>
<rect x="0" y="0" width="97.8" height="73.5" fill="#000" filter="url(#g18)"/>
<ellipse cx="28" cy="1.5" rx="8" ry="6" fill="#BDB6C2" stroke="#E2B8D6" stroke-width="1.2"/>
<line x1="74.4" y1="68.6" x2="93.8" y2="68.6" stroke="#14101c" stroke-width="1.5" />
<text x="84.2" y="65.6" font-size="6.3" text-anchor="middle" textLength="15.5" lengthAdjust="spacingAndGlyphs" fill="#2a1c50">50μm</text>
</g>
<g transform="translate(309.5,857.1)" clip-path="url(#gt12)">
<rect x="0.0" y="0.0" width="98.5" height="73.5" fill="#DA72DA"/>
<rect x="0" y="0" width="98.5" height="73.5" fill="#000" filter="url(#g19)"/>
<rect x="0" y="0" width="98.5" height="73.5" fill="#000" filter="url(#g20)"/>
<ellipse cx="57" cy="33" rx="27" ry="25" fill="#000" filter="url(#g21)"/>
<path d="M70,8 Q88,20 84,42 Q80,55 66,60" fill="none" stroke="#EBD8EB" stroke-width="1.6" stroke-dasharray="2 2" opacity="0.8"/>
<line x1="74.4" y1="68.6" x2="93.8" y2="68.6" stroke="#14101c" stroke-width="1.5" />
<text x="84.2" y="65.6" font-size="6.3" text-anchor="middle" textLength="15.5" lengthAdjust="spacingAndGlyphs" fill="#2a1c50">50μm</text>
</g>
<g transform="translate(415.0,857.1)" clip-path="url(#gt13)">
<rect x="0.0" y="0.0" width="99.0" height="73.5" fill="#DA72DA"/>
<rect x="0" y="0" width="99.0" height="73.5" fill="#000" filter="url(#g22)"/>
<rect x="0" y="0" width="99.0" height="73.5" fill="#000" filter="url(#g23)"/>
<line x1="74.4" y1="68.6" x2="93.8" y2="68.6" stroke="#14101c" stroke-width="1.5" />
<text x="84.2" y="65.6" font-size="6.3" text-anchor="middle" textLength="15.5" lengthAdjust="spacingAndGlyphs" fill="#2a1c50">50μm</text>
</g>
<g transform="translate(98.3,938.6)" clip-path="url(#gt20)">
<rect x="0.0" y="0.0" width="97.8" height="73.2" fill="#DA72DA"/>
<rect x="-80" y="-80" width="260" height="240" fill="#000" filter="url(#g24)" transform="rotate(-48 48.9 36.6)"/>
<rect x="-80" y="-80" width="260" height="240" fill="#000" filter="url(#g25)" transform="rotate(-48 48.9 36.6)"/>
<line x1="74.4" y1="68.6" x2="93.8" y2="68.6" stroke="#14101c" stroke-width="1.5" />
<text x="84.2" y="65.6" font-size="6.3" text-anchor="middle" textLength="15.5" lengthAdjust="spacingAndGlyphs" fill="#2a1c50">50μm</text>
</g>
<g transform="translate(204.2,938.6)" clip-path="url(#gt21)">
<rect x="0.0" y="0.0" width="97.8" height="73.2" fill="#C335C9"/>
<rect x="-80" y="-80" width="260" height="240" fill="#000" filter="url(#g26)" transform="rotate(-60 48.9 36.6)"/>
<rect x="-80" y="-80" width="260" height="240" fill="#000" filter="url(#g27)" transform="rotate(-60 48.9 36.6)"/>
<ellipse cx="71.5" cy="13" rx="1.8" ry="5" fill="#D6CCD8" transform="rotate(-20 71.5 13)"/>
<ellipse cx="13.5" cy="38" rx="1.5" ry="4" fill="#D6CCD8" transform="rotate(-30 13.5 38)"/>
<line x1="74.4" y1="68.6" x2="93.8" y2="68.6" stroke="#14101c" stroke-width="1.5" />
<text x="84.2" y="65.6" font-size="6.3" text-anchor="middle" textLength="15.5" lengthAdjust="spacingAndGlyphs" fill="#2a1c50">50μm</text>
</g>
<g transform="translate(309.5,938.6)" clip-path="url(#gt22)">
<rect x="0.0" y="0.0" width="98.5" height="73.2" fill="#DA72DA"/>
<rect x="0" y="0" width="98.5" height="73.2" fill="#000" filter="url(#g28)"/>
<rect x="0" y="0" width="98.5" height="73.2" fill="#000" filter="url(#g29)"/>
<path d="M0,0 L30,0 L22,10 L10,16 L0,22 Z M62,0 L97.5,0 L97.5,60 L88,52 L84,34 L74,18 Z M0,58 L8,62 L12,72.7 L0,72.7 Z" fill="#000" filter="url(#g30)"/>
<line x1="74.4" y1="68.6" x2="93.8" y2="68.6" stroke="#14101c" stroke-width="1.5" />
<text x="84.2" y="65.6" font-size="6.3" text-anchor="middle" textLength="15.5" lengthAdjust="spacingAndGlyphs" fill="#2a1c50">50μm</text>
</g>
<g transform="translate(415.0,938.6)" clip-path="url(#gt23)">
<rect x="0.0" y="0.0" width="99.0" height="73.2" fill="#C335C9"/>
<rect x="0" y="0" width="99.0" height="73.2" fill="#000" filter="url(#g31)"/>
<rect x="0" y="0" width="99.0" height="73.2" fill="#000" filter="url(#g32)"/>
<ellipse cx="84" cy="22" rx="2.5" ry="4" fill="#DA72DA" stroke="#EEDDEE" stroke-width="1"/>
<ellipse cx="78" cy="36" rx="2.5" ry="3" fill="#DA72DA" stroke="#EEDDEE" stroke-width="1"/>
<ellipse cx="90" cy="48" rx="2.5" ry="4" fill="#DA72DA" stroke="#EEDDEE" stroke-width="1"/>
<ellipse cx="30" cy="46" rx="3" ry="5" fill="#DA72DA" stroke="#EEDDEE" stroke-width="1"/>
<ellipse cx="86" cy="33" rx="2" ry="2.5" fill="#DA72DA" stroke="#EEDDEE" stroke-width="1"/>
<line x1="74.4" y1="68.6" x2="93.8" y2="68.6" stroke="#14101c" stroke-width="1.5" />
<text x="84.2" y="65.6" font-size="6.3" text-anchor="middle" textLength="15.5" lengthAdjust="spacingAndGlyphs" fill="#2a1c50">50μm</text>
</g>
</g>
<g id="pH">
<text x="544.4" y="728.6" font-size="19.5" font-weight="bold" textLength="11.8" lengthAdjust="spacingAndGlyphs">H</text>
<text x="618.6" y="734.0" font-size="8.8" text-anchor="middle" stroke="#1a1a1a" stroke-width="0.15">ALT</text>
<line x1="602.3" y1="772.8" x2="602.3" y2="756.4" stroke="#5f4f57" stroke-width="0.8" />
<line x1="599.3" y1="756.4" x2="605.3" y2="756.4" stroke="#5f4f57" stroke-width="0.8" />
<rect x="597.3" y="772.8" width="10.1" height="58.8" fill="#242424" stroke="#1e1e1e" stroke-width="0.9"/>
<line x1="602.3" y1="831.6" x2="602.3" y2="834.2" stroke="#222" stroke-width="0.8" />
<line x1="618.5" y1="769.4" x2="618.5" y2="756.4" stroke="#5f4f57" stroke-width="0.8" />
<line x1="615.5" y1="756.4" x2="621.5" y2="756.4" stroke="#5f4f57" stroke-width="0.8" />
<rect x="613.4" y="769.4" width="10.3" height="62.2" fill="#ABABAB" stroke="#1e1e1e" stroke-width="0.9"/>
<line x1="618.5" y1="831.6" x2="618.5" y2="834.2" stroke="#222" stroke-width="0.8" />
<line x1="634.7" y1="762.5" x2="634.7" y2="753.8" stroke="#5f4f57" stroke-width="0.8" />
<line x1="631.7" y1="753.8" x2="637.7" y2="753.8" stroke="#5f4f57" stroke-width="0.8" />
<rect x="629.4" y="762.5" width="10.6" height="69.1" fill="#6F6F6F" stroke="#1e1e1e" stroke-width="0.9"/>
<line x1="634.7" y1="831.6" x2="634.7" y2="834.2" stroke="#222" stroke-width="0.8" />
<line x1="590.8" y1="744.8" x2="590.8" y2="832.1" stroke="#3a3a3a" stroke-width="0.9" />
<line x1="590.3" y1="831.6" x2="645.8" y2="831.6" stroke="#3a3a3a" stroke-width="0.9" />
<line x1="587.8" y1="831.6" x2="590.8" y2="831.6" stroke="#1a1a1a" stroke-width="0.8" />
<text x="587.0" y="833.9" font-size="6.4" font-weight="bold" text-anchor="end">0</text>
<line x1="587.8" y1="814.3" x2="590.8" y2="814.3" stroke="#1a1a1a" stroke-width="0.8" />
<text x="587.0" y="816.6" font-size="6.4" font-weight="bold" text-anchor="end">10</text>
<line x1="587.8" y1="797.0" x2="590.8" y2="797.0" stroke="#1a1a1a" stroke-width="0.8" />
<text x="587.0" y="799.3" font-size="6.4" font-weight="bold" text-anchor="end">20</text>
<line x1="587.8" y1="779.8" x2="590.8" y2="779.8" stroke="#1a1a1a" stroke-width="0.8" />
<text x="587.0" y="782.1" font-size="6.4" font-weight="bold" text-anchor="end">30</text>
<line x1="587.8" y1="762.5" x2="590.8" y2="762.5" stroke="#1a1a1a" stroke-width="0.8" />
<text x="587.0" y="764.8" font-size="6.4" font-weight="bold" text-anchor="end">40</text>
<line x1="587.8" y1="745.2" x2="590.8" y2="745.2" stroke="#1a1a1a" stroke-width="0.8" />
<text x="587.0" y="747.5" font-size="6.4" font-weight="bold" text-anchor="end">50</text>
<text x="575.9" y="788.4" font-size="6.6" font-weight="bold" text-anchor="middle" transform="rotate(-90 575.9 788.4)" textLength="10.5" lengthAdjust="spacingAndGlyphs">U/L</text>
<text x="604.0" y="840.9" font-size="6.4" font-weight="bold" text-anchor="end" transform="rotate(-45 604.0 840.9)">PBS</text>
<text x="620.5" y="841.6" font-size="6.4" font-weight="bold" text-anchor="end" transform="rotate(-45 620.5 841.6)">tLyp-1-EXO-NC</text>
<text x="632.4" y="841.9" font-size="6.4" font-weight="bold" text-anchor="end" transform="rotate(-45 632.4 841.9)">tLyp-1-EXO-ASO</text>
<text x="640.2" y="848.0" font-size="6.4" font-weight="bold" text-anchor="end" transform="rotate(-45 640.2 848.0)">circRAPGEF5</text>
<text x="708.8" y="734.0" font-size="8.8" text-anchor="middle" stroke="#1a1a1a" stroke-width="0.15">AST</text>
<line x1="692.6" y1="775.8" x2="692.6" y2="764.2" stroke="#5f4f57" stroke-width="0.8" />
<line x1="689.6" y1="764.2" x2="695.6" y2="764.2" stroke="#5f4f57" stroke-width="0.8" />
<rect x="687.4" y="775.8" width="10.4" height="55.0" fill="#242424" stroke="#1e1e1e" stroke-width="0.9"/>
<line x1="692.6" y1="830.8" x2="692.6" y2="833.4" stroke="#222" stroke-width="0.8" />
<line x1="708.8" y1="772.4" x2="708.8" y2="759.9" stroke="#5f4f57" stroke-width="0.8" />
<line x1="705.8" y1="759.9" x2="711.8" y2="759.9" stroke="#5f4f57" stroke-width="0.8" />
<rect x="703.6" y="772.4" width="10.4" height="58.4" fill="#ABABAB" stroke="#1e1e1e" stroke-width="0.9"/>
<line x1="708.8" y1="830.8" x2="708.8" y2="833.4" stroke="#222" stroke-width="0.8" />
<line x1="725.1" y1="772.4" x2="725.1" y2="761.7" stroke="#5f4f57" stroke-width="0.8" />
<line x1="722.1" y1="761.7" x2="728.1" y2="761.7" stroke="#5f4f57" stroke-width="0.8" />
<rect x="719.6" y="772.4" width="11.0" height="58.4" fill="#6F6F6F" stroke="#1e1e1e" stroke-width="0.9"/>
<line x1="725.1" y1="830.8" x2="725.1" y2="833.4" stroke="#222" stroke-width="0.8" />
<line x1="680.9" y1="744.5" x2="680.9" y2="831.3" stroke="#3a3a3a" stroke-width="0.9" />
<line x1="680.4" y1="830.8" x2="736.0" y2="830.8" stroke="#3a3a3a" stroke-width="0.9" />
<line x1="677.9" y1="830.8" x2="680.9" y2="830.8" stroke="#1a1a1a" stroke-width="0.8" />
<text x="677.1" y="833.1" font-size="6.4" font-weight="bold" text-anchor="end">0</text>
<line x1="677.9" y1="809.3" x2="680.9" y2="809.3" stroke="#1a1a1a" stroke-width="0.8" />
<text x="677.1" y="811.6" font-size="6.4" font-weight="bold" text-anchor="end">50</text>
<line x1="677.9" y1="787.8" x2="680.9" y2="787.8" stroke="#1a1a1a" stroke-width="0.8" />
<text x="677.1" y="790.1" font-size="6.4" font-weight="bold" text-anchor="end">100</text>
<line x1="677.9" y1="766.4" x2="680.9" y2="766.4" stroke="#1a1a1a" stroke-width="0.8" />
<text x="677.1" y="768.7" font-size="6.4" font-weight="bold" text-anchor="end">150</text>
<line x1="677.9" y1="744.9" x2="680.9" y2="744.9" stroke="#1a1a1a" stroke-width="0.8" />
<text x="677.1" y="747.2" font-size="6.4" font-weight="bold" text-anchor="end">200</text>
<text x="662.2" y="788.4" font-size="6.6" font-weight="bold" text-anchor="middle" transform="rotate(-90 662.2 788.4)" textLength="10.5" lengthAdjust="spacingAndGlyphs">U/L</text>
<text x="694.3" y="840.1" font-size="6.4" font-weight="bold" text-anchor="end" transform="rotate(-45 694.3 840.1)">PBS</text>
<text x="710.8" y="840.8" font-size="6.4" font-weight="bold" text-anchor="end" transform="rotate(-45 710.8 840.8)">tlyp-1-EXO-NC</text>
<text x="722.8" y="841.1" font-size="6.4" font-weight="bold" text-anchor="end" transform="rotate(-45 722.8 841.1)">tlyp-1-EXO-ASO</text>
<text x="730.6" y="847.2" font-size="6.4" font-weight="bold" text-anchor="end" transform="rotate(-45 730.6 847.2)">circRAPGEF5</text>
<text x="614.5" y="897.0" font-size="8.8" text-anchor="middle" stroke="#1a1a1a" stroke-width="0.15">UREA</text>
<line x1="599.5" y1="929.9" x2="599.5" y2="923.1" stroke="#5f4f57" stroke-width="0.8" />
<line x1="596.5" y1="923.1" x2="602.5" y2="923.1" stroke="#5f4f57" stroke-width="0.8" />
<rect x="594.2" y="929.9" width="10.5" height="64.3" fill="#242424" stroke="#1e1e1e" stroke-width="0.9"/>
<line x1="599.5" y1="994.2" x2="599.5" y2="996.8" stroke="#222" stroke-width="0.8" />
<line x1="615.5" y1="934.6" x2="615.5" y2="924.4" stroke="#5f4f57" stroke-width="0.8" />
<line x1="612.5" y1="924.4" x2="618.5" y2="924.4" stroke="#5f4f57" stroke-width="0.8" />
<rect x="610.2" y="934.6" width="10.5" height="59.6" fill="#ABABAB" stroke="#1e1e1e" stroke-width="0.9"/>
<line x1="615.5" y1="994.2" x2="615.5" y2="996.8" stroke="#222" stroke-width="0.8" />
<line x1="631.8" y1="932.5" x2="631.8" y2="919.2" stroke="#5f4f57" stroke-width="0.8" />
<line x1="628.8" y1="919.2" x2="634.8" y2="919.2" stroke="#5f4f57" stroke-width="0.8" />
<rect x="626.3" y="932.5" width="11.1" height="61.7" fill="#6F6F6F" stroke="#1e1e1e" stroke-width="0.9"/>
<line x1="631.8" y1="994.2" x2="631.8" y2="996.8" stroke="#222" stroke-width="0.8" />
<line x1="588.5" y1="908.1" x2="588.5" y2="994.7" stroke="#3a3a3a" stroke-width="0.9" />
<line x1="588.0" y1="994.2" x2="642.3" y2="994.2" stroke="#3a3a3a" stroke-width="0.9" />
<line x1="585.5" y1="994.2" x2="588.5" y2="994.2" stroke="#1a1a1a" stroke-width="0.8" />
<text x="584.7" y="996.5" font-size="6.4" font-weight="bold" text-anchor="end">0</text>
<line x1="585.5" y1="977.1" x2="588.5" y2="977.1" stroke="#1a1a1a" stroke-width="0.8" />
<text x="584.7" y="979.4" font-size="6.4" font-weight="bold" text-anchor="end">2</text>
<line x1="585.5" y1="959.9" x2="588.5" y2="959.9" stroke="#1a1a1a" stroke-width="0.8" />
<text x="584.7" y="962.2" font-size="6.4" font-weight="bold" text-anchor="end">4</text>
<line x1="585.5" y1="942.8" x2="588.5" y2="942.8" stroke="#1a1a1a" stroke-width="0.8" />
<text x="584.7" y="945.1" font-size="6.4" font-weight="bold" text-anchor="end">6</text>
<line x1="585.5" y1="925.6" x2="588.5" y2="925.6" stroke="#1a1a1a" stroke-width="0.8" />
<text x="584.7" y="927.9" font-size="6.4" font-weight="bold" text-anchor="end">8</text>
<line x1="585.5" y1="908.5" x2="588.5" y2="908.5" stroke="#1a1a1a" stroke-width="0.8" />
<text x="584.7" y="910.8" font-size="6.4" font-weight="bold" text-anchor="end">10</text>
<text x="573.8" y="952.0" font-size="6.6" font-weight="bold" text-anchor="middle" transform="rotate(-90 573.8 952.0)" textLength="22.0" lengthAdjust="spacingAndGlyphs">mmol/L</text>
<text x="601.2" y="1003.5" font-size="6.4" font-weight="bold" text-anchor="end" transform="rotate(-45 601.2 1003.5)">PBS</text>
<text x="617.5" y="1004.2" font-size="6.4" font-weight="bold" text-anchor="end" transform="rotate(-45 617.5 1004.2)">tLyp-1-EXO-NC</text>
<text x="629.5" y="1004.5" font-size="6.4" font-weight="bold" text-anchor="end" transform="rotate(-45 629.5 1004.5)">tLyp-1-EXO-ASO</text>
<text x="637.3" y="1010.6" font-size="6.4" font-weight="bold" text-anchor="end" transform="rotate(-45 637.3 1010.6)">circRAPGEF5</text>
<text x="710.7" y="897.0" font-size="8.8" text-anchor="middle" stroke="#1a1a1a" stroke-width="0.15">CRE</text>
<line x1="695.0" y1="929.6" x2="695.0" y2="922.8" stroke="#5f4f57" stroke-width="0.8" />
<line x1="692.0" y1="922.8" x2="698.0" y2="922.8" stroke="#5f4f57" stroke-width="0.8" />
<rect x="689.8" y="929.6" width="10.5" height="64.6" fill="#242424" stroke="#1e1e1e" stroke-width="0.9"/>
<line x1="695.0" y1="994.2" x2="695.0" y2="996.8" stroke="#222" stroke-width="0.8" />
<line x1="711.4" y1="928.5" x2="711.4" y2="917.6" stroke="#5f4f57" stroke-width="0.8" />
<line x1="708.4" y1="917.6" x2="714.4" y2="917.6" stroke="#5f4f57" stroke-width="0.8" />
<rect x="706.2" y="928.5" width="10.4" height="65.7" fill="#ABABAB" stroke="#1e1e1e" stroke-width="0.9"/>
<line x1="711.4" y1="994.2" x2="711.4" y2="996.8" stroke="#222" stroke-width="0.8" />
<line x1="727.8" y1="928.5" x2="727.8" y2="921.6" stroke="#5f4f57" stroke-width="0.8" />
<line x1="724.8" y1="921.6" x2="730.8" y2="921.6" stroke="#5f4f57" stroke-width="0.8" />
<rect x="722.5" y="928.5" width="10.5" height="65.7" fill="#6F6F6F" stroke="#1e1e1e" stroke-width="0.9"/>
<line x1="727.8" y1="994.2" x2="727.8" y2="996.8" stroke="#222" stroke-width="0.8" />
<line x1="684.0" y1="908.1" x2="684.0" y2="994.7" stroke="#3a3a3a" stroke-width="0.9" />
<line x1="683.5" y1="994.2" x2="738.3" y2="994.2" stroke="#3a3a3a" stroke-width="0.9" />
<line x1="681.0" y1="994.2" x2="684.0" y2="994.2" stroke="#1a1a1a" stroke-width="0.8" />
<text x="680.2" y="996.5" font-size="6.4" font-weight="bold" text-anchor="end">0</text>
<line x1="681.0" y1="965.6" x2="684.0" y2="965.6" stroke="#1a1a1a" stroke-width="0.8" />
<text x="680.2" y="967.9" font-size="6.4" font-weight="bold" text-anchor="end">5</text>
<line x1="681.0" y1="937.1" x2="684.0" y2="937.1" stroke="#1a1a1a" stroke-width="0.8" />
<text x="680.2" y="939.4" font-size="6.4" font-weight="bold" text-anchor="end">10</text>
<line x1="681.0" y1="908.5" x2="684.0" y2="908.5" stroke="#1a1a1a" stroke-width="0.8" />
<text x="680.2" y="910.8" font-size="6.4" font-weight="bold" text-anchor="end">15</text>
<text x="668.2" y="952.0" font-size="6.6" font-weight="bold" text-anchor="middle" transform="rotate(-90 668.2 952.0)" textLength="21.0" lengthAdjust="spacingAndGlyphs">μmol/L</text>
<text x="696.8" y="1003.5" font-size="6.4" font-weight="bold" text-anchor="end" transform="rotate(-45 696.8 1003.5)">PBS</text>
<text x="713.4" y="1004.2" font-size="6.4" font-weight="bold" text-anchor="end" transform="rotate(-45 713.4 1004.2)">tLyp-1-EXO-NC</text>
<text x="725.5" y="1004.5" font-size="6.4" font-weight="bold" text-anchor="end" transform="rotate(-45 725.5 1004.5)">tLyp-1-EXO-ASO</text>
<text x="733.2" y="1010.6" font-size="6.4" font-weight="bold" text-anchor="end" transform="rotate(-45 733.2 1010.6)">circRAPGEF5</text>
</g>
</svg>
</body></html>
